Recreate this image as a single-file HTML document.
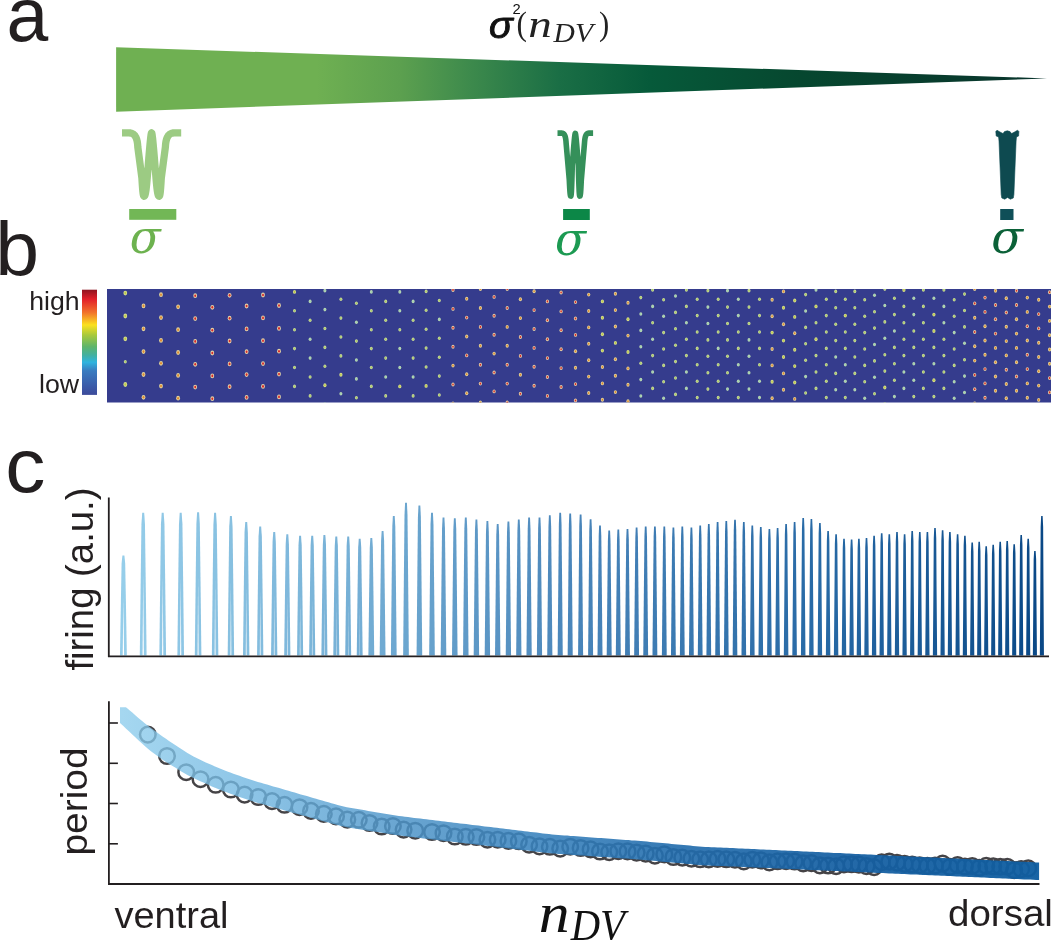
<!DOCTYPE html>
<html><head><meta charset="utf-8"><title>figure</title>
<style>html,body{margin:0;padding:0;background:#fff;overflow:hidden}svg{display:block}</style>
</head><body>
<svg width="1051" height="940" viewBox="0 0 1051 940">
<rect width="1051" height="940" fill="#fff"/>
<defs>
<linearGradient id="gw" x1="116" x2="1048" y1="0" y2="0" gradientUnits="userSpaceOnUse"><stop offset="0" stop-color="#6fb052"/><stop offset="0.215" stop-color="#6fb052"/><stop offset="0.305" stop-color="#5ca04f"/><stop offset="0.38" stop-color="#3d8a4c"/><stop offset="0.476" stop-color="#1a6e45"/><stop offset="0.573" stop-color="#065a3a"/><stop offset="0.734" stop-color="#06472f"/><stop offset="0.9" stop-color="#083b2d"/><stop offset="1" stop-color="#08332b"/></linearGradient>
<linearGradient id="cb" x1="0" x2="0" y1="0" y2="1"><stop offset="0" stop-color="#8f1420"/><stop offset="0.09" stop-color="#e2202a"/><stop offset="0.22" stop-color="#f2752a"/><stop offset="0.335" stop-color="#fbe11f"/><stop offset="0.43" stop-color="#a9c93b"/><stop offset="0.54" stop-color="#5fb56a"/><stop offset="0.62" stop-color="#43b09f"/><stop offset="0.69" stop-color="#2fb4df"/><stop offset="0.77" stop-color="#3a7cc0"/><stop offset="0.92" stop-color="#3b5aa8"/><stop offset="1" stop-color="#3c4a9a"/></linearGradient>
<linearGradient id="bandg" x1="120" x2="1039" y1="0" y2="0" gradientUnits="userSpaceOnUse"><stop offset="0" stop-color="#8cccec" stop-opacity="0.78"/><stop offset="0.15" stop-color="#6fb5e0" stop-opacity="0.8"/><stop offset="0.3" stop-color="#4e95c9" stop-opacity="0.84"/><stop offset="0.45" stop-color="#3882bd" stop-opacity="0.88"/><stop offset="0.6" stop-color="#236dad" stop-opacity="0.91"/><stop offset="0.8" stop-color="#155fa2" stop-opacity="0.94"/><stop offset="1" stop-color="#0f5ea1" stop-opacity="0.96"/></linearGradient>
<clipPath id="hm"><rect x="107" y="289" width="944" height="113.5"/></clipPath>
<clipPath id="bc"><rect x="120" y="707.2" width="919.3" height="180"/></clipPath>
</defs>
<polygon points="116.1,47.2 1047,78.4 116.1,111.8" fill="url(#gw)"/>
<text transform="translate(489.07,38.48) scale(1.061,1)" font-family="'Liberation Sans',sans-serif" font-weight="normal" font-style="italic" font-size="37.22" fill="#111" stroke="#111" stroke-width="0.9" stroke-linejoin="round">σ</text>
<text transform="translate(512.56,14.00) scale(1.031,1)" font-family="'Liberation Sans',sans-serif" font-weight="normal" font-style="normal" font-size="14.29" fill="#111">2</text>
<text transform="translate(516.59,35.46) scale(0.923,1)" font-family="'Liberation Serif',serif" font-weight="normal" font-style="normal" font-size="34.00" fill="#222">(</text>
<text transform="translate(528.35,36.79) scale(1.216,1)" font-family="'Liberation Serif',serif" font-weight="normal" font-style="italic" font-size="38.71" fill="#222">n</text>
<text transform="translate(553.60,42.19) scale(1.095,1)" font-family="'Liberation Serif',serif" font-weight="normal" font-style="italic" font-size="27.01" fill="#222">DV</text>
<text transform="translate(598.98,35.46) scale(0.905,1)" font-family="'Liberation Serif',serif" font-weight="normal" font-style="normal" font-size="34.00" fill="#222">)</text>
<polyline points="122.00,132.90 129.10,132.90 130.43,133.00 131.62,133.27 132.68,133.73 133.62,134.34 134.44,135.10 135.15,136.01 135.77,137.04 136.28,138.19 136.71,139.46 137.06,140.81 137.34,142.26 137.55,143.78 137.70,145.36 137.80,147.00 141.90,178.00 142.06,180.63 142.21,183.05 142.36,185.24 142.50,187.23 142.64,189.01 142.78,190.58 142.92,191.95 143.06,193.13 143.21,194.12 143.37,194.91 143.53,195.53 143.71,195.96 143.90,196.22 144.10,196.30 144.44,196.14 144.75,195.66 145.05,194.88 145.33,193.82 145.60,192.50 145.86,190.94 146.10,189.16 146.34,187.18 146.57,185.00 146.80,182.66 147.02,180.17 147.25,177.55 147.47,174.82 147.70,172.00 148.07,167.46 148.43,163.06 148.77,158.85 149.10,154.84 149.42,151.08 149.73,147.58 150.02,144.39 150.29,141.52 150.55,139.01 150.79,136.89 151.02,135.19 151.23,133.94 151.42,133.16 151.60,132.90 151.78,133.16 151.97,133.94 152.18,135.19 152.41,136.89 152.65,139.01 152.91,141.52 153.18,144.39 153.47,147.58 153.78,151.08 154.10,154.84 154.43,158.85 154.77,163.06 155.13,167.46 155.50,172.00 155.73,174.82 155.95,177.55 156.18,180.17 156.40,182.66 156.63,185.00 156.86,187.18 157.10,189.16 157.34,190.94 157.60,192.50 157.87,193.82 158.15,194.88 158.45,195.66 158.76,196.14 159.10,196.30 159.30,196.22 159.49,195.96 159.67,195.53 159.83,194.91 159.99,194.12 160.14,193.13 160.28,191.95 160.42,190.58 160.56,189.01 160.70,187.23 160.84,185.24 160.99,183.05 161.14,180.63 161.30,178.00 165.40,147.00 165.50,145.36 165.65,143.78 165.86,142.26 166.14,140.81 166.49,139.46 166.92,138.19 167.43,137.04 168.05,136.01 168.76,135.10 169.58,134.34 170.52,133.73 171.58,133.27 172.77,133.00 174.10,132.90 181.20,132.90" fill="none" stroke="#9ccb83" stroke-width="7.3" stroke-linejoin="round"/>
<polyline points="557.50,133.10 561.70,133.10 562.37,133.17 562.96,133.36 563.49,133.68 563.95,134.11 564.36,134.65 564.71,135.28 565.01,136.01 565.26,136.82 565.47,137.70 565.65,138.66 565.80,139.67 565.92,140.74 566.02,141.85 566.10,143.00 569.30,180.00 569.41,182.32 569.51,184.44 569.61,186.37 569.71,188.12 569.80,189.68 569.90,191.07 569.99,192.28 570.09,193.31 570.19,194.18 570.30,194.88 570.41,195.42 570.53,195.80 570.66,196.03 570.80,196.10 570.94,195.89 571.07,195.27 571.20,194.28 571.31,192.93 571.43,191.24 571.53,189.25 571.63,186.96 571.73,184.42 571.83,181.64 571.92,178.65 572.02,175.46 572.11,172.11 572.20,168.61 572.30,165.00 572.58,161.33 572.86,157.78 573.13,154.37 573.38,151.13 573.62,148.09 573.86,145.27 574.08,142.68 574.29,140.36 574.49,138.34 574.68,136.62 574.85,135.25 575.02,134.24 575.16,133.61 575.30,133.40 575.44,133.61 575.58,134.24 575.75,135.25 575.92,136.62 576.11,138.34 576.31,140.36 576.52,142.68 576.74,145.27 576.98,148.09 577.22,151.13 577.47,154.37 577.74,157.78 578.02,161.33 578.30,165.00 578.40,168.61 578.49,172.11 578.58,175.46 578.68,178.65 578.77,181.64 578.87,184.42 578.97,186.96 579.07,189.25 579.17,191.24 579.29,192.93 579.40,194.28 579.53,195.27 579.66,195.89 579.80,196.10 579.94,196.03 580.07,195.80 580.19,195.42 580.30,194.88 580.41,194.18 580.51,193.31 580.61,192.28 580.70,191.07 580.80,189.68 580.89,188.12 580.99,186.37 581.09,184.44 581.19,182.32 581.30,180.00 584.50,143.00 584.58,141.85 584.68,140.74 584.80,139.67 584.95,138.66 585.13,137.70 585.34,136.82 585.59,136.01 585.89,135.28 586.24,134.65 586.65,134.11 587.11,133.68 587.64,133.36 588.23,133.17 588.90,133.10 593.10,133.10" fill="none" stroke="#35905a" stroke-width="5.6" stroke-linejoin="round"/>
<path d="M995.8,131.5 L997,130.2 L1000,132 L1003,133.6 L1004.5,131.6 L1007.3,130.8 L1010,131.6 L1011.6,133.6 L1014.5,132 L1017.6,130.2 L1018.9,131.5 L1018.6,136 L1016.5,137 L1016.1,141 L1013.9,194.5 L1013.3,198 L1010.3,199.2 L1007.5,197.4 L1004.8,199.2 L1001.8,198 L1001.2,194.5 L999,141 L998.6,137 L996.2,136 Z" fill="#0e4a50" stroke="#0e4a50" stroke-width="0.6" stroke-linejoin="round"/>
<rect x="129.2" y="209" width="47.1" height="10.8" fill="#72b756"/>
<rect x="563.1" y="209" width="26.7" height="11" fill="#0c8747"/>
<rect x="1000.2" y="209" width="13.3" height="11" fill="#0f4f58"/>
<text transform="translate(129.66,252.89) scale(0.958,1)" font-family="'DejaVu Serif','Liberation Serif',serif" font-weight="normal" font-style="italic" font-size="47.29" fill="#6db24f">σ</text>
<text transform="translate(554.95,254.59) scale(0.965,1)" font-family="'DejaVu Serif','Liberation Serif',serif" font-weight="normal" font-style="italic" font-size="47.10" fill="#1c9a52">σ</text>
<text transform="translate(991.21,252.89) scale(0.984,1)" font-family="'DejaVu Serif','Liberation Serif',serif" font-weight="normal" font-style="italic" font-size="47.29" fill="#0b6138">σ</text>
<text transform="translate(6.52,41.03) scale(0.981,1)" font-family="'Liberation Sans',sans-serif" font-weight="normal" font-style="normal" font-size="76.55" fill="#231f20">a</text>
<text transform="translate(-4.63,275.14) scale(1.037,1)" font-family="'Liberation Sans',sans-serif" font-weight="normal" font-style="normal" font-size="76.05" fill="#231f20">b</text>
<text transform="translate(5.29,492.23) scale(1.048,1)" font-family="'Liberation Sans',sans-serif" font-weight="normal" font-style="normal" font-size="76.55" fill="#231f20">c</text>
<rect x="82" y="289.7" width="15" height="105.2" fill="url(#cb)"/>
<text transform="translate(29.13,309.84) scale(1.026,1)" font-family="'Liberation Sans',sans-serif" font-weight="normal" font-style="normal" font-size="25.99" fill="#231f20">high</text>
<text transform="translate(38.96,392.94) scale(1.029,1)" font-family="'Liberation Sans',sans-serif" font-weight="normal" font-style="normal" font-size="25.99" fill="#231f20">low</text>
<rect x="107" y="289" width="944" height="113.5" fill="#353c8d"/>
<g clip-path="url(#hm)">
<ellipse cx="125.3" cy="293.1" rx="1.9" ry="2.4" fill="#d6dc8a"/><ellipse cx="125.3" cy="293.1" rx="0.95" ry="1.32" fill="#b9c94a"/>
<ellipse cx="125.3" cy="316.0" rx="1.9" ry="2.4" fill="#d6dc8a"/><ellipse cx="125.3" cy="316.0" rx="0.95" ry="1.32" fill="#b9c94a"/>
<ellipse cx="125.3" cy="338.8" rx="1.9" ry="2.4" fill="#d6dc8a"/><ellipse cx="125.3" cy="338.8" rx="0.95" ry="1.32" fill="#b9c94a"/>
<ellipse cx="125.3" cy="361.7" rx="1.5" ry="1.8" fill="#cbd996"/><ellipse cx="125.3" cy="361.7" rx="0.75" ry="0.99" fill="#a5cc6c"/>
<ellipse cx="125.3" cy="384.5" rx="1.9" ry="2.4" fill="#d6dc8a"/><ellipse cx="125.3" cy="384.5" rx="0.95" ry="1.32" fill="#b9c94a"/>
<ellipse cx="143.5" cy="305.9" rx="1.9" ry="2.4" fill="#e1d39a"/><ellipse cx="143.5" cy="305.9" rx="0.95" ry="1.32" fill="#e0862e"/>
<ellipse cx="143.5" cy="328.8" rx="1.9" ry="2.4" fill="#e1d39a"/><ellipse cx="143.5" cy="328.8" rx="0.95" ry="1.32" fill="#e0862e"/>
<ellipse cx="143.5" cy="351.6" rx="1.9" ry="2.4" fill="#e1d39a"/><ellipse cx="143.5" cy="351.6" rx="0.95" ry="1.32" fill="#e0862e"/>
<ellipse cx="143.5" cy="374.5" rx="1.9" ry="2.4" fill="#e1d39a"/><ellipse cx="143.5" cy="374.5" rx="0.95" ry="1.32" fill="#e0862e"/>
<ellipse cx="143.5" cy="397.3" rx="1.9" ry="2.4" fill="#e1d39a"/><ellipse cx="143.5" cy="397.3" rx="0.95" ry="1.32" fill="#e0862e"/>
<ellipse cx="161.0" cy="294.7" rx="1.9" ry="2.4" fill="#e1d39a"/><ellipse cx="161.0" cy="294.7" rx="0.95" ry="1.32" fill="#e0862e"/>
<ellipse cx="161.0" cy="317.6" rx="1.9" ry="2.4" fill="#e1d39a"/><ellipse cx="161.0" cy="317.6" rx="0.95" ry="1.32" fill="#e0862e"/>
<ellipse cx="161.0" cy="340.4" rx="1.9" ry="2.4" fill="#e1d39a"/><ellipse cx="161.0" cy="340.4" rx="0.95" ry="1.32" fill="#e0862e"/>
<ellipse cx="161.0" cy="363.3" rx="1.9" ry="2.4" fill="#e1d39a"/><ellipse cx="161.0" cy="363.3" rx="0.95" ry="1.32" fill="#e0862e"/>
<ellipse cx="161.0" cy="386.1" rx="1.9" ry="2.4" fill="#e1d39a"/><ellipse cx="161.0" cy="386.1" rx="0.95" ry="1.32" fill="#e0862e"/>
<ellipse cx="178.1" cy="306.8" rx="1.9" ry="2.4" fill="#e1d39a"/><ellipse cx="178.1" cy="306.8" rx="0.95" ry="1.32" fill="#e0862e"/>
<ellipse cx="178.1" cy="329.7" rx="1.9" ry="2.4" fill="#e1d39a"/><ellipse cx="178.1" cy="329.7" rx="0.95" ry="1.32" fill="#e0862e"/>
<ellipse cx="178.1" cy="352.5" rx="1.9" ry="2.4" fill="#e1d39a"/><ellipse cx="178.1" cy="352.5" rx="0.95" ry="1.32" fill="#e0862e"/>
<ellipse cx="178.1" cy="375.4" rx="1.9" ry="2.4" fill="#e1d39a"/><ellipse cx="178.1" cy="375.4" rx="0.95" ry="1.32" fill="#e0862e"/>
<ellipse cx="178.1" cy="398.2" rx="1.9" ry="2.4" fill="#e1d39a"/><ellipse cx="178.1" cy="398.2" rx="0.95" ry="1.32" fill="#e0862e"/>
<ellipse cx="195.2" cy="295.7" rx="1.9" ry="2.4" fill="#e3d3a6"/><ellipse cx="195.2" cy="295.7" rx="0.95" ry="1.32" fill="#d8262c"/>
<ellipse cx="195.2" cy="318.6" rx="1.9" ry="2.4" fill="#e3d3a6"/><ellipse cx="195.2" cy="318.6" rx="0.95" ry="1.32" fill="#d8262c"/>
<ellipse cx="195.2" cy="341.4" rx="1.9" ry="2.4" fill="#e3d3a6"/><ellipse cx="195.2" cy="341.4" rx="0.95" ry="1.32" fill="#d8262c"/>
<ellipse cx="195.2" cy="364.3" rx="1.9" ry="2.4" fill="#e3d3a6"/><ellipse cx="195.2" cy="364.3" rx="0.95" ry="1.32" fill="#d8262c"/>
<ellipse cx="195.2" cy="387.1" rx="1.9" ry="2.4" fill="#e3d3a6"/><ellipse cx="195.2" cy="387.1" rx="0.95" ry="1.32" fill="#d8262c"/>
<ellipse cx="212.3" cy="307.3" rx="1.9" ry="2.4" fill="#e3d3a6"/><ellipse cx="212.3" cy="307.3" rx="0.95" ry="1.32" fill="#d8262c"/>
<ellipse cx="212.3" cy="330.2" rx="1.9" ry="2.4" fill="#e3d3a6"/><ellipse cx="212.3" cy="330.2" rx="0.95" ry="1.32" fill="#d8262c"/>
<ellipse cx="212.3" cy="353.0" rx="1.9" ry="2.4" fill="#e3d3a6"/><ellipse cx="212.3" cy="353.0" rx="0.95" ry="1.32" fill="#d8262c"/>
<ellipse cx="212.3" cy="375.9" rx="1.9" ry="2.4" fill="#e3d3a6"/><ellipse cx="212.3" cy="375.9" rx="0.95" ry="1.32" fill="#d8262c"/>
<ellipse cx="212.3" cy="398.7" rx="1.9" ry="2.4" fill="#e3d3a6"/><ellipse cx="212.3" cy="398.7" rx="0.95" ry="1.32" fill="#d8262c"/>
<ellipse cx="229.6" cy="295.3" rx="1.9" ry="2.4" fill="#e3d3a6"/><ellipse cx="229.6" cy="295.3" rx="0.95" ry="1.32" fill="#d8262c"/>
<ellipse cx="229.6" cy="318.2" rx="1.9" ry="2.4" fill="#e3d3a6"/><ellipse cx="229.6" cy="318.2" rx="0.95" ry="1.32" fill="#d8262c"/>
<ellipse cx="229.6" cy="341.0" rx="1.9" ry="2.4" fill="#e3d3a6"/><ellipse cx="229.6" cy="341.0" rx="0.95" ry="1.32" fill="#d8262c"/>
<ellipse cx="229.6" cy="363.9" rx="1.9" ry="2.4" fill="#e3d3a6"/><ellipse cx="229.6" cy="363.9" rx="0.95" ry="1.32" fill="#d8262c"/>
<ellipse cx="229.6" cy="386.7" rx="1.9" ry="2.4" fill="#e3d3a6"/><ellipse cx="229.6" cy="386.7" rx="0.95" ry="1.32" fill="#d8262c"/>
<ellipse cx="246.6" cy="306.0" rx="1.9" ry="2.4" fill="#e3d3a6"/><ellipse cx="246.6" cy="306.0" rx="0.95" ry="1.32" fill="#d8262c"/>
<ellipse cx="246.6" cy="328.9" rx="1.9" ry="2.4" fill="#e3d3a6"/><ellipse cx="246.6" cy="328.9" rx="0.95" ry="1.32" fill="#d8262c"/>
<ellipse cx="246.6" cy="351.7" rx="1.9" ry="2.4" fill="#e3d3a6"/><ellipse cx="246.6" cy="351.7" rx="0.95" ry="1.32" fill="#d8262c"/>
<ellipse cx="246.6" cy="374.6" rx="1.9" ry="2.4" fill="#e3d3a6"/><ellipse cx="246.6" cy="374.6" rx="0.95" ry="1.32" fill="#d8262c"/>
<ellipse cx="246.6" cy="397.4" rx="1.9" ry="2.4" fill="#e3d3a6"/><ellipse cx="246.6" cy="397.4" rx="0.95" ry="1.32" fill="#d8262c"/>
<ellipse cx="263.0" cy="295.0" rx="1.9" ry="2.4" fill="#e3d3a6"/><ellipse cx="263.0" cy="295.0" rx="0.95" ry="1.32" fill="#d8262c"/>
<ellipse cx="263.0" cy="317.9" rx="1.9" ry="2.4" fill="#e3d3a6"/><ellipse cx="263.0" cy="317.9" rx="0.95" ry="1.32" fill="#d8262c"/>
<ellipse cx="263.0" cy="340.7" rx="1.9" ry="2.4" fill="#e3d3a6"/><ellipse cx="263.0" cy="340.7" rx="0.95" ry="1.32" fill="#d8262c"/>
<ellipse cx="263.0" cy="363.6" rx="1.9" ry="2.4" fill="#e3d3a6"/><ellipse cx="263.0" cy="363.6" rx="0.95" ry="1.32" fill="#d8262c"/>
<ellipse cx="263.0" cy="386.4" rx="1.9" ry="2.4" fill="#e3d3a6"/><ellipse cx="263.0" cy="386.4" rx="0.95" ry="1.32" fill="#d8262c"/>
<ellipse cx="279.0" cy="305.5" rx="1.9" ry="2.4" fill="#e3d3a6"/><ellipse cx="279.0" cy="305.5" rx="0.95" ry="1.32" fill="#d8262c"/>
<ellipse cx="279.0" cy="328.4" rx="1.9" ry="2.4" fill="#e3d3a6"/><ellipse cx="279.0" cy="328.4" rx="0.95" ry="1.32" fill="#d8262c"/>
<ellipse cx="279.0" cy="351.2" rx="1.9" ry="2.4" fill="#e3d3a6"/><ellipse cx="279.0" cy="351.2" rx="0.95" ry="1.32" fill="#d8262c"/>
<ellipse cx="279.0" cy="374.1" rx="1.9" ry="2.4" fill="#e3d3a6"/><ellipse cx="279.0" cy="374.1" rx="0.95" ry="1.32" fill="#d8262c"/>
<ellipse cx="279.0" cy="396.9" rx="1.9" ry="2.4" fill="#e3d3a6"/><ellipse cx="279.0" cy="396.9" rx="0.95" ry="1.32" fill="#d8262c"/>
<ellipse cx="294.5" cy="291.9" rx="1.6" ry="1.95" fill="#d6dc8a"/><ellipse cx="294.5" cy="291.9" rx="0.80" ry="1.07" fill="#b9c94a"/>
<ellipse cx="294.5" cy="310.8" rx="1.5" ry="1.8" fill="#cbd996"/><ellipse cx="294.5" cy="310.8" rx="0.75" ry="0.99" fill="#a5cc6c"/>
<ellipse cx="294.5" cy="329.7" rx="1.5" ry="1.8" fill="#cbd996"/><ellipse cx="294.5" cy="329.7" rx="0.75" ry="0.99" fill="#a5cc6c"/>
<ellipse cx="294.5" cy="348.6" rx="1.5" ry="1.8" fill="#cbd996"/><ellipse cx="294.5" cy="348.6" rx="0.75" ry="0.99" fill="#a5cc6c"/>
<ellipse cx="294.5" cy="367.5" rx="1.5" ry="1.8" fill="#cbd996"/><ellipse cx="294.5" cy="367.5" rx="0.75" ry="0.99" fill="#a5cc6c"/>
<ellipse cx="294.5" cy="386.4" rx="1.5" ry="1.8" fill="#cbd996"/><ellipse cx="294.5" cy="386.4" rx="0.75" ry="0.99" fill="#a5cc6c"/>
<ellipse cx="310.1" cy="301.4" rx="1.5" ry="1.8" fill="#b9d6b0"/><ellipse cx="310.1" cy="301.4" rx="0.75" ry="0.99" fill="#9fd0b4"/>
<ellipse cx="310.1" cy="320.3" rx="1.5" ry="1.8" fill="#cbd996"/><ellipse cx="310.1" cy="320.3" rx="0.75" ry="0.99" fill="#a5cc6c"/>
<ellipse cx="310.1" cy="339.2" rx="1.5" ry="1.8" fill="#b9d6b0"/><ellipse cx="310.1" cy="339.2" rx="0.75" ry="0.99" fill="#9fd0b4"/>
<ellipse cx="310.1" cy="358.1" rx="1.5" ry="1.8" fill="#b9d6b0"/><ellipse cx="310.1" cy="358.1" rx="0.75" ry="0.99" fill="#9fd0b4"/>
<ellipse cx="310.1" cy="377.0" rx="1.5" ry="1.8" fill="#cbd996"/><ellipse cx="310.1" cy="377.0" rx="0.75" ry="0.99" fill="#a5cc6c"/>
<ellipse cx="310.1" cy="395.9" rx="1.5" ry="1.8" fill="#cbd996"/><ellipse cx="310.1" cy="395.9" rx="0.75" ry="0.99" fill="#a5cc6c"/>
<ellipse cx="324.9" cy="290.7" rx="1.5" ry="1.8" fill="#b9d6b0"/><ellipse cx="324.9" cy="290.7" rx="0.75" ry="0.99" fill="#9fd0b4"/>
<ellipse cx="324.9" cy="309.6" rx="1.5" ry="1.8" fill="#b9d6b0"/><ellipse cx="324.9" cy="309.6" rx="0.75" ry="0.99" fill="#9fd0b4"/>
<ellipse cx="324.9" cy="328.5" rx="1.5" ry="1.8" fill="#cbd996"/><ellipse cx="324.9" cy="328.5" rx="0.75" ry="0.99" fill="#a5cc6c"/>
<ellipse cx="324.9" cy="347.4" rx="1.5" ry="1.8" fill="#cbd996"/><ellipse cx="324.9" cy="347.4" rx="0.75" ry="0.99" fill="#a5cc6c"/>
<ellipse cx="324.9" cy="366.3" rx="1.5" ry="1.8" fill="#cbd996"/><ellipse cx="324.9" cy="366.3" rx="0.75" ry="0.99" fill="#a5cc6c"/>
<ellipse cx="324.9" cy="385.2" rx="1.6" ry="1.95" fill="#d6dc8a"/><ellipse cx="324.9" cy="385.2" rx="0.80" ry="1.07" fill="#b9c94a"/>
<ellipse cx="324.9" cy="404.1" rx="1.5" ry="1.8" fill="#b9d6b0"/><ellipse cx="324.9" cy="404.1" rx="0.75" ry="0.99" fill="#9fd0b4"/>
<ellipse cx="340.9" cy="299.2" rx="1.5" ry="1.8" fill="#cbd996"/><ellipse cx="340.9" cy="299.2" rx="0.75" ry="0.99" fill="#a5cc6c"/>
<ellipse cx="340.9" cy="318.1" rx="1.5" ry="1.8" fill="#cbd996"/><ellipse cx="340.9" cy="318.1" rx="0.75" ry="0.99" fill="#a5cc6c"/>
<ellipse cx="340.9" cy="337.0" rx="1.5" ry="1.8" fill="#cbd996"/><ellipse cx="340.9" cy="337.0" rx="0.75" ry="0.99" fill="#a5cc6c"/>
<ellipse cx="340.9" cy="355.9" rx="1.5" ry="1.8" fill="#cbd996"/><ellipse cx="340.9" cy="355.9" rx="0.75" ry="0.99" fill="#a5cc6c"/>
<ellipse cx="340.9" cy="374.8" rx="1.6" ry="1.95" fill="#d6dc8a"/><ellipse cx="340.9" cy="374.8" rx="0.80" ry="1.07" fill="#b9c94a"/>
<ellipse cx="340.9" cy="393.7" rx="1.5" ry="1.8" fill="#b9d6b0"/><ellipse cx="340.9" cy="393.7" rx="0.75" ry="0.99" fill="#9fd0b4"/>
<ellipse cx="356.4" cy="303.3" rx="1.5" ry="1.8" fill="#cbd996"/><ellipse cx="356.4" cy="303.3" rx="0.75" ry="0.99" fill="#a5cc6c"/>
<ellipse cx="356.4" cy="322.2" rx="1.5" ry="1.8" fill="#b9d6b0"/><ellipse cx="356.4" cy="322.2" rx="0.75" ry="0.99" fill="#9fd0b4"/>
<ellipse cx="356.4" cy="341.1" rx="1.5" ry="1.8" fill="#cbd996"/><ellipse cx="356.4" cy="341.1" rx="0.75" ry="0.99" fill="#a5cc6c"/>
<ellipse cx="356.4" cy="360.0" rx="1.5" ry="1.8" fill="#b9d6b0"/><ellipse cx="356.4" cy="360.0" rx="0.75" ry="0.99" fill="#9fd0b4"/>
<ellipse cx="356.4" cy="378.9" rx="1.5" ry="1.8" fill="#b9d6b0"/><ellipse cx="356.4" cy="378.9" rx="0.75" ry="0.99" fill="#9fd0b4"/>
<ellipse cx="356.4" cy="397.8" rx="1.5" ry="1.8" fill="#cbd996"/><ellipse cx="356.4" cy="397.8" rx="0.75" ry="0.99" fill="#a5cc6c"/>
<ellipse cx="371.3" cy="291.9" rx="1.5" ry="1.8" fill="#b9d6b0"/><ellipse cx="371.3" cy="291.9" rx="0.75" ry="0.99" fill="#9fd0b4"/>
<ellipse cx="371.3" cy="310.8" rx="1.5" ry="1.8" fill="#cbd996"/><ellipse cx="371.3" cy="310.8" rx="0.75" ry="0.99" fill="#a5cc6c"/>
<ellipse cx="371.3" cy="329.7" rx="1.5" ry="1.8" fill="#cbd996"/><ellipse cx="371.3" cy="329.7" rx="0.75" ry="0.99" fill="#a5cc6c"/>
<ellipse cx="371.3" cy="348.6" rx="1.5" ry="1.8" fill="#cbd996"/><ellipse cx="371.3" cy="348.6" rx="0.75" ry="0.99" fill="#a5cc6c"/>
<ellipse cx="371.3" cy="367.5" rx="1.5" ry="1.8" fill="#cbd996"/><ellipse cx="371.3" cy="367.5" rx="0.75" ry="0.99" fill="#a5cc6c"/>
<ellipse cx="371.3" cy="386.4" rx="1.5" ry="1.8" fill="#cbd996"/><ellipse cx="371.3" cy="386.4" rx="0.75" ry="0.99" fill="#a5cc6c"/>
<ellipse cx="385.7" cy="301.4" rx="1.5" ry="1.8" fill="#cbd996"/><ellipse cx="385.7" cy="301.4" rx="0.75" ry="0.99" fill="#a5cc6c"/>
<ellipse cx="385.7" cy="320.3" rx="1.5" ry="1.8" fill="#cbd996"/><ellipse cx="385.7" cy="320.3" rx="0.75" ry="0.99" fill="#a5cc6c"/>
<ellipse cx="385.7" cy="339.2" rx="1.5" ry="1.8" fill="#cbd996"/><ellipse cx="385.7" cy="339.2" rx="0.75" ry="0.99" fill="#a5cc6c"/>
<ellipse cx="385.7" cy="358.1" rx="1.5" ry="1.8" fill="#cbd996"/><ellipse cx="385.7" cy="358.1" rx="0.75" ry="0.99" fill="#a5cc6c"/>
<ellipse cx="385.7" cy="377.0" rx="1.5" ry="1.8" fill="#b9d6b0"/><ellipse cx="385.7" cy="377.0" rx="0.75" ry="0.99" fill="#9fd0b4"/>
<ellipse cx="385.7" cy="395.9" rx="1.5" ry="1.8" fill="#cbd996"/><ellipse cx="385.7" cy="395.9" rx="0.75" ry="0.99" fill="#a5cc6c"/>
<ellipse cx="399.8" cy="291.9" rx="1.5" ry="1.8" fill="#b9d6b0"/><ellipse cx="399.8" cy="291.9" rx="0.75" ry="0.99" fill="#9fd0b4"/>
<ellipse cx="399.8" cy="310.8" rx="1.5" ry="1.8" fill="#b9d6b0"/><ellipse cx="399.8" cy="310.8" rx="0.75" ry="0.99" fill="#9fd0b4"/>
<ellipse cx="399.8" cy="329.7" rx="1.5" ry="1.8" fill="#cbd996"/><ellipse cx="399.8" cy="329.7" rx="0.75" ry="0.99" fill="#a5cc6c"/>
<ellipse cx="399.8" cy="348.6" rx="1.5" ry="1.8" fill="#b9d6b0"/><ellipse cx="399.8" cy="348.6" rx="0.75" ry="0.99" fill="#9fd0b4"/>
<ellipse cx="399.8" cy="367.5" rx="1.5" ry="1.8" fill="#b9d6b0"/><ellipse cx="399.8" cy="367.5" rx="0.75" ry="0.99" fill="#9fd0b4"/>
<ellipse cx="399.8" cy="386.4" rx="1.6" ry="1.95" fill="#d6dc8a"/><ellipse cx="399.8" cy="386.4" rx="0.80" ry="1.07" fill="#b9c94a"/>
<ellipse cx="413.1" cy="301.4" rx="1.5" ry="1.8" fill="#b9d6b0"/><ellipse cx="413.1" cy="301.4" rx="0.75" ry="0.99" fill="#9fd0b4"/>
<ellipse cx="413.1" cy="320.3" rx="1.5" ry="1.8" fill="#cbd996"/><ellipse cx="413.1" cy="320.3" rx="0.75" ry="0.99" fill="#a5cc6c"/>
<ellipse cx="413.1" cy="339.2" rx="1.5" ry="1.8" fill="#cbd996"/><ellipse cx="413.1" cy="339.2" rx="0.75" ry="0.99" fill="#a5cc6c"/>
<ellipse cx="413.1" cy="358.1" rx="1.5" ry="1.8" fill="#cbd996"/><ellipse cx="413.1" cy="358.1" rx="0.75" ry="0.99" fill="#a5cc6c"/>
<ellipse cx="413.1" cy="377.0" rx="1.5" ry="1.8" fill="#b9d6b0"/><ellipse cx="413.1" cy="377.0" rx="0.75" ry="0.99" fill="#9fd0b4"/>
<ellipse cx="413.1" cy="395.9" rx="1.5" ry="1.8" fill="#cbd996"/><ellipse cx="413.1" cy="395.9" rx="0.75" ry="0.99" fill="#a5cc6c"/>
<ellipse cx="426.1" cy="291.4" rx="1.5" ry="1.8" fill="#cbd996"/><ellipse cx="426.1" cy="291.4" rx="0.75" ry="0.99" fill="#a5cc6c"/>
<ellipse cx="426.1" cy="310.3" rx="1.5" ry="1.8" fill="#cbd996"/><ellipse cx="426.1" cy="310.3" rx="0.75" ry="0.99" fill="#a5cc6c"/>
<ellipse cx="426.1" cy="329.2" rx="1.5" ry="1.8" fill="#cbd996"/><ellipse cx="426.1" cy="329.2" rx="0.75" ry="0.99" fill="#a5cc6c"/>
<ellipse cx="426.1" cy="348.1" rx="1.5" ry="1.8" fill="#cbd996"/><ellipse cx="426.1" cy="348.1" rx="0.75" ry="0.99" fill="#a5cc6c"/>
<ellipse cx="426.1" cy="367.0" rx="1.5" ry="1.8" fill="#cbd996"/><ellipse cx="426.1" cy="367.0" rx="0.75" ry="0.99" fill="#a5cc6c"/>
<ellipse cx="426.1" cy="385.9" rx="1.6" ry="1.95" fill="#d6dc8a"/><ellipse cx="426.1" cy="385.9" rx="0.80" ry="1.07" fill="#b9c94a"/>
<ellipse cx="426.1" cy="404.8" rx="1.5" ry="1.8" fill="#b9d6b0"/><ellipse cx="426.1" cy="404.8" rx="0.75" ry="0.99" fill="#9fd0b4"/>
<ellipse cx="439.3" cy="300.5" rx="1.5" ry="1.8" fill="#cbd996"/><ellipse cx="439.3" cy="300.5" rx="0.75" ry="0.99" fill="#a5cc6c"/>
<ellipse cx="439.3" cy="319.4" rx="1.5" ry="1.8" fill="#b9d6b0"/><ellipse cx="439.3" cy="319.4" rx="0.75" ry="0.99" fill="#9fd0b4"/>
<ellipse cx="439.3" cy="338.3" rx="1.5" ry="1.8" fill="#cbd996"/><ellipse cx="439.3" cy="338.3" rx="0.75" ry="0.99" fill="#a5cc6c"/>
<ellipse cx="439.3" cy="357.2" rx="1.5" ry="1.8" fill="#cbd996"/><ellipse cx="439.3" cy="357.2" rx="0.75" ry="0.99" fill="#a5cc6c"/>
<ellipse cx="439.3" cy="376.1" rx="1.5" ry="1.8" fill="#cbd996"/><ellipse cx="439.3" cy="376.1" rx="0.75" ry="0.99" fill="#a5cc6c"/>
<ellipse cx="439.3" cy="395.0" rx="1.5" ry="1.8" fill="#cbd996"/><ellipse cx="439.3" cy="395.0" rx="0.75" ry="0.99" fill="#a5cc6c"/>
<ellipse cx="453.0" cy="290.0" rx="1.6" ry="1.95" fill="#e3d3a6"/><ellipse cx="453.0" cy="290.0" rx="0.80" ry="1.07" fill="#d8262c"/>
<ellipse cx="453.0" cy="308.9" rx="1.6" ry="1.95" fill="#e3d3a6"/><ellipse cx="453.0" cy="308.9" rx="0.80" ry="1.07" fill="#d8262c"/>
<ellipse cx="453.0" cy="327.8" rx="1.6" ry="1.95" fill="#e3d3a6"/><ellipse cx="453.0" cy="327.8" rx="0.80" ry="1.07" fill="#d8262c"/>
<ellipse cx="453.0" cy="346.7" rx="1.6" ry="1.95" fill="#e3d3a6"/><ellipse cx="453.0" cy="346.7" rx="0.80" ry="1.07" fill="#d8262c"/>
<ellipse cx="453.0" cy="365.6" rx="1.6" ry="1.95" fill="#e1d39a"/><ellipse cx="453.0" cy="365.6" rx="0.80" ry="1.07" fill="#e0862e"/>
<ellipse cx="453.0" cy="384.5" rx="1.6" ry="1.95" fill="#e3d3a6"/><ellipse cx="453.0" cy="384.5" rx="0.80" ry="1.07" fill="#d8262c"/>
<ellipse cx="453.0" cy="403.4" rx="1.6" ry="1.95" fill="#e1d39a"/><ellipse cx="453.0" cy="403.4" rx="0.80" ry="1.07" fill="#e0862e"/>
<ellipse cx="466.7" cy="298.7" rx="1.6" ry="1.95" fill="#e1d39a"/><ellipse cx="466.7" cy="298.7" rx="0.80" ry="1.07" fill="#e0862e"/>
<ellipse cx="466.7" cy="317.6" rx="1.6" ry="1.95" fill="#e3d3a6"/><ellipse cx="466.7" cy="317.6" rx="0.80" ry="1.07" fill="#d8262c"/>
<ellipse cx="466.7" cy="336.5" rx="1.6" ry="1.95" fill="#e1d39a"/><ellipse cx="466.7" cy="336.5" rx="0.80" ry="1.07" fill="#e0862e"/>
<ellipse cx="466.7" cy="355.4" rx="1.6" ry="1.95" fill="#e3d3a6"/><ellipse cx="466.7" cy="355.4" rx="0.80" ry="1.07" fill="#d8262c"/>
<ellipse cx="466.7" cy="374.3" rx="1.6" ry="1.95" fill="#e1d39a"/><ellipse cx="466.7" cy="374.3" rx="0.80" ry="1.07" fill="#e0862e"/>
<ellipse cx="466.7" cy="393.2" rx="1.6" ry="1.95" fill="#e1d39a"/><ellipse cx="466.7" cy="393.2" rx="0.80" ry="1.07" fill="#e0862e"/>
<ellipse cx="480.4" cy="289.1" rx="1.6" ry="1.95" fill="#e1d39a"/><ellipse cx="480.4" cy="289.1" rx="0.80" ry="1.07" fill="#e0862e"/>
<ellipse cx="480.4" cy="308.0" rx="1.6" ry="1.95" fill="#e1d39a"/><ellipse cx="480.4" cy="308.0" rx="0.80" ry="1.07" fill="#e0862e"/>
<ellipse cx="480.4" cy="326.9" rx="1.6" ry="1.95" fill="#e3d3a6"/><ellipse cx="480.4" cy="326.9" rx="0.80" ry="1.07" fill="#d8262c"/>
<ellipse cx="480.4" cy="345.8" rx="1.6" ry="1.95" fill="#e1d39a"/><ellipse cx="480.4" cy="345.8" rx="0.80" ry="1.07" fill="#e0862e"/>
<ellipse cx="480.4" cy="364.7" rx="1.6" ry="1.95" fill="#e3d3a6"/><ellipse cx="480.4" cy="364.7" rx="0.80" ry="1.07" fill="#d8262c"/>
<ellipse cx="480.4" cy="383.6" rx="1.6" ry="1.95" fill="#e3d3a6"/><ellipse cx="480.4" cy="383.6" rx="0.80" ry="1.07" fill="#d8262c"/>
<ellipse cx="480.4" cy="402.5" rx="1.6" ry="1.95" fill="#e1d39a"/><ellipse cx="480.4" cy="402.5" rx="0.80" ry="1.07" fill="#e0862e"/>
<ellipse cx="494.1" cy="296.9" rx="1.6" ry="1.95" fill="#e3d3a6"/><ellipse cx="494.1" cy="296.9" rx="0.80" ry="1.07" fill="#d8262c"/>
<ellipse cx="494.1" cy="315.8" rx="1.6" ry="1.95" fill="#e3d3a6"/><ellipse cx="494.1" cy="315.8" rx="0.80" ry="1.07" fill="#d8262c"/>
<ellipse cx="494.1" cy="334.7" rx="1.6" ry="1.95" fill="#e3d3a6"/><ellipse cx="494.1" cy="334.7" rx="0.80" ry="1.07" fill="#d8262c"/>
<ellipse cx="494.1" cy="353.6" rx="1.6" ry="1.95" fill="#e1d39a"/><ellipse cx="494.1" cy="353.6" rx="0.80" ry="1.07" fill="#e0862e"/>
<ellipse cx="494.1" cy="372.5" rx="1.6" ry="1.95" fill="#e3d3a6"/><ellipse cx="494.1" cy="372.5" rx="0.80" ry="1.07" fill="#d8262c"/>
<ellipse cx="494.1" cy="391.4" rx="1.6" ry="1.95" fill="#e3d3a6"/><ellipse cx="494.1" cy="391.4" rx="0.80" ry="1.07" fill="#d8262c"/>
<ellipse cx="507.2" cy="289.1" rx="1.6" ry="1.95" fill="#e3d3a6"/><ellipse cx="507.2" cy="289.1" rx="0.80" ry="1.07" fill="#d8262c"/>
<ellipse cx="507.2" cy="308.0" rx="1.6" ry="1.95" fill="#e3d3a6"/><ellipse cx="507.2" cy="308.0" rx="0.80" ry="1.07" fill="#d8262c"/>
<ellipse cx="507.2" cy="326.9" rx="1.6" ry="1.95" fill="#e1d39a"/><ellipse cx="507.2" cy="326.9" rx="0.80" ry="1.07" fill="#e0862e"/>
<ellipse cx="507.2" cy="345.8" rx="1.6" ry="1.95" fill="#e1d39a"/><ellipse cx="507.2" cy="345.8" rx="0.80" ry="1.07" fill="#e0862e"/>
<ellipse cx="507.2" cy="364.7" rx="1.6" ry="1.95" fill="#e3d3a6"/><ellipse cx="507.2" cy="364.7" rx="0.80" ry="1.07" fill="#d8262c"/>
<ellipse cx="507.2" cy="383.6" rx="1.6" ry="1.95" fill="#e3d3a6"/><ellipse cx="507.2" cy="383.6" rx="0.80" ry="1.07" fill="#d8262c"/>
<ellipse cx="507.2" cy="402.5" rx="1.6" ry="1.95" fill="#e3d3a6"/><ellipse cx="507.2" cy="402.5" rx="0.80" ry="1.07" fill="#d8262c"/>
<ellipse cx="520.4" cy="299.2" rx="1.6" ry="1.95" fill="#e1d39a"/><ellipse cx="520.4" cy="299.2" rx="0.80" ry="1.07" fill="#e0862e"/>
<ellipse cx="520.4" cy="318.1" rx="1.6" ry="1.95" fill="#e1d39a"/><ellipse cx="520.4" cy="318.1" rx="0.80" ry="1.07" fill="#e0862e"/>
<ellipse cx="520.4" cy="337.0" rx="1.6" ry="1.95" fill="#e3d3a6"/><ellipse cx="520.4" cy="337.0" rx="0.80" ry="1.07" fill="#d8262c"/>
<ellipse cx="520.4" cy="355.9" rx="1.6" ry="1.95" fill="#e3d3a6"/><ellipse cx="520.4" cy="355.9" rx="0.80" ry="1.07" fill="#d8262c"/>
<ellipse cx="520.4" cy="374.8" rx="1.6" ry="1.95" fill="#e1d39a"/><ellipse cx="520.4" cy="374.8" rx="0.80" ry="1.07" fill="#e0862e"/>
<ellipse cx="520.4" cy="393.7" rx="1.6" ry="1.95" fill="#e3d3a6"/><ellipse cx="520.4" cy="393.7" rx="0.80" ry="1.07" fill="#d8262c"/>
<ellipse cx="534.1" cy="291.2" rx="1.6" ry="1.95" fill="#e1d39a"/><ellipse cx="534.1" cy="291.2" rx="0.80" ry="1.07" fill="#e0862e"/>
<ellipse cx="534.1" cy="310.1" rx="1.6" ry="1.95" fill="#e3d3a6"/><ellipse cx="534.1" cy="310.1" rx="0.80" ry="1.07" fill="#d8262c"/>
<ellipse cx="534.1" cy="329.0" rx="1.6" ry="1.95" fill="#e3d3a6"/><ellipse cx="534.1" cy="329.0" rx="0.80" ry="1.07" fill="#d8262c"/>
<ellipse cx="534.1" cy="347.9" rx="1.6" ry="1.95" fill="#e3d3a6"/><ellipse cx="534.1" cy="347.9" rx="0.80" ry="1.07" fill="#d8262c"/>
<ellipse cx="534.1" cy="366.8" rx="1.6" ry="1.95" fill="#e3d3a6"/><ellipse cx="534.1" cy="366.8" rx="0.80" ry="1.07" fill="#d8262c"/>
<ellipse cx="534.1" cy="385.7" rx="1.6" ry="1.95" fill="#e3d3a6"/><ellipse cx="534.1" cy="385.7" rx="0.80" ry="1.07" fill="#d8262c"/>
<ellipse cx="534.1" cy="404.6" rx="1.6" ry="1.95" fill="#e3d3a6"/><ellipse cx="534.1" cy="404.6" rx="0.80" ry="1.07" fill="#d8262c"/>
<ellipse cx="547.4" cy="301.4" rx="1.6" ry="1.95" fill="#e3d3a6"/><ellipse cx="547.4" cy="301.4" rx="0.80" ry="1.07" fill="#d8262c"/>
<ellipse cx="547.4" cy="320.3" rx="1.6" ry="1.95" fill="#e3d3a6"/><ellipse cx="547.4" cy="320.3" rx="0.80" ry="1.07" fill="#d8262c"/>
<ellipse cx="547.4" cy="339.2" rx="1.6" ry="1.95" fill="#e3d3a6"/><ellipse cx="547.4" cy="339.2" rx="0.80" ry="1.07" fill="#d8262c"/>
<ellipse cx="547.4" cy="358.1" rx="1.6" ry="1.95" fill="#e3d3a6"/><ellipse cx="547.4" cy="358.1" rx="0.80" ry="1.07" fill="#d8262c"/>
<ellipse cx="547.4" cy="377.0" rx="1.6" ry="1.95" fill="#e3d3a6"/><ellipse cx="547.4" cy="377.0" rx="0.80" ry="1.07" fill="#d8262c"/>
<ellipse cx="547.4" cy="395.9" rx="1.6" ry="1.95" fill="#e3d3a6"/><ellipse cx="547.4" cy="395.9" rx="0.80" ry="1.07" fill="#d8262c"/>
<ellipse cx="561.1" cy="292.5" rx="1.6" ry="1.95" fill="#e3d3a6"/><ellipse cx="561.1" cy="292.5" rx="0.80" ry="1.07" fill="#d8262c"/>
<ellipse cx="561.1" cy="311.4" rx="1.6" ry="1.95" fill="#e3d3a6"/><ellipse cx="561.1" cy="311.4" rx="0.80" ry="1.07" fill="#d8262c"/>
<ellipse cx="561.1" cy="330.3" rx="1.6" ry="1.95" fill="#e3d3a6"/><ellipse cx="561.1" cy="330.3" rx="0.80" ry="1.07" fill="#d8262c"/>
<ellipse cx="561.1" cy="349.2" rx="1.6" ry="1.95" fill="#e3d3a6"/><ellipse cx="561.1" cy="349.2" rx="0.80" ry="1.07" fill="#d8262c"/>
<ellipse cx="561.1" cy="368.1" rx="1.6" ry="1.95" fill="#e3d3a6"/><ellipse cx="561.1" cy="368.1" rx="0.80" ry="1.07" fill="#d8262c"/>
<ellipse cx="561.1" cy="387.0" rx="1.6" ry="1.95" fill="#e3d3a6"/><ellipse cx="561.1" cy="387.0" rx="0.80" ry="1.07" fill="#d8262c"/>
<ellipse cx="575.5" cy="302.1" rx="1.6" ry="1.95" fill="#e3d3a6"/><ellipse cx="575.5" cy="302.1" rx="0.80" ry="1.07" fill="#d8262c"/>
<ellipse cx="575.5" cy="318.5" rx="1.6" ry="1.95" fill="#e3d3a6"/><ellipse cx="575.5" cy="318.5" rx="0.80" ry="1.07" fill="#d8262c"/>
<ellipse cx="575.5" cy="334.9" rx="1.6" ry="1.95" fill="#e3d3a6"/><ellipse cx="575.5" cy="334.9" rx="0.80" ry="1.07" fill="#d8262c"/>
<ellipse cx="575.5" cy="351.3" rx="1.6" ry="1.95" fill="#e1d39a"/><ellipse cx="575.5" cy="351.3" rx="0.80" ry="1.07" fill="#e0862e"/>
<ellipse cx="575.5" cy="367.7" rx="1.6" ry="1.95" fill="#e1d39a"/><ellipse cx="575.5" cy="367.7" rx="0.80" ry="1.07" fill="#e0862e"/>
<ellipse cx="575.5" cy="384.1" rx="1.6" ry="1.95" fill="#e3d3a6"/><ellipse cx="575.5" cy="384.1" rx="0.80" ry="1.07" fill="#d8262c"/>
<ellipse cx="575.5" cy="400.5" rx="1.6" ry="1.95" fill="#e3d3a6"/><ellipse cx="575.5" cy="400.5" rx="0.80" ry="1.07" fill="#d8262c"/>
<ellipse cx="588.7" cy="294.6" rx="1.6" ry="1.95" fill="#e1d39a"/><ellipse cx="588.7" cy="294.6" rx="0.80" ry="1.07" fill="#e0862e"/>
<ellipse cx="588.7" cy="311.0" rx="1.6" ry="1.95" fill="#e1d39a"/><ellipse cx="588.7" cy="311.0" rx="0.80" ry="1.07" fill="#e0862e"/>
<ellipse cx="588.7" cy="327.4" rx="1.6" ry="1.95" fill="#e1d39a"/><ellipse cx="588.7" cy="327.4" rx="0.80" ry="1.07" fill="#e0862e"/>
<ellipse cx="588.7" cy="343.8" rx="1.6" ry="1.95" fill="#e1d39a"/><ellipse cx="588.7" cy="343.8" rx="0.80" ry="1.07" fill="#e0862e"/>
<ellipse cx="588.7" cy="360.2" rx="1.6" ry="1.95" fill="#e1d39a"/><ellipse cx="588.7" cy="360.2" rx="0.80" ry="1.07" fill="#e0862e"/>
<ellipse cx="588.7" cy="376.6" rx="1.6" ry="1.95" fill="#e1d39a"/><ellipse cx="588.7" cy="376.6" rx="0.80" ry="1.07" fill="#e0862e"/>
<ellipse cx="588.7" cy="393.0" rx="1.6" ry="1.95" fill="#e1d39a"/><ellipse cx="588.7" cy="393.0" rx="0.80" ry="1.07" fill="#e0862e"/>
<ellipse cx="602.4" cy="301.4" rx="1.6" ry="1.95" fill="#d6dc8a"/><ellipse cx="602.4" cy="301.4" rx="0.80" ry="1.07" fill="#b9c94a"/>
<ellipse cx="602.4" cy="317.8" rx="1.6" ry="1.95" fill="#d6dc8a"/><ellipse cx="602.4" cy="317.8" rx="0.80" ry="1.07" fill="#b9c94a"/>
<ellipse cx="602.4" cy="334.2" rx="1.6" ry="1.95" fill="#d6dc8a"/><ellipse cx="602.4" cy="334.2" rx="0.80" ry="1.07" fill="#b9c94a"/>
<ellipse cx="602.4" cy="350.6" rx="1.6" ry="1.95" fill="#d6dc8a"/><ellipse cx="602.4" cy="350.6" rx="0.80" ry="1.07" fill="#b9c94a"/>
<ellipse cx="602.4" cy="367.0" rx="1.6" ry="1.95" fill="#e1d39a"/><ellipse cx="602.4" cy="367.0" rx="0.80" ry="1.07" fill="#e0862e"/>
<ellipse cx="602.4" cy="383.4" rx="1.6" ry="1.95" fill="#e1d39a"/><ellipse cx="602.4" cy="383.4" rx="0.80" ry="1.07" fill="#e0862e"/>
<ellipse cx="602.4" cy="399.8" rx="1.6" ry="1.95" fill="#e1d39a"/><ellipse cx="602.4" cy="399.8" rx="0.80" ry="1.07" fill="#e0862e"/>
<ellipse cx="615.4" cy="293.7" rx="1.6" ry="1.95" fill="#e1d39a"/><ellipse cx="615.4" cy="293.7" rx="0.80" ry="1.07" fill="#e0862e"/>
<ellipse cx="615.4" cy="310.1" rx="1.6" ry="1.95" fill="#e1d39a"/><ellipse cx="615.4" cy="310.1" rx="0.80" ry="1.07" fill="#e0862e"/>
<ellipse cx="615.4" cy="326.5" rx="1.6" ry="1.95" fill="#e1d39a"/><ellipse cx="615.4" cy="326.5" rx="0.80" ry="1.07" fill="#e0862e"/>
<ellipse cx="615.4" cy="342.9" rx="1.6" ry="1.95" fill="#d6dc8a"/><ellipse cx="615.4" cy="342.9" rx="0.80" ry="1.07" fill="#b9c94a"/>
<ellipse cx="615.4" cy="359.3" rx="1.6" ry="1.95" fill="#e1d39a"/><ellipse cx="615.4" cy="359.3" rx="0.80" ry="1.07" fill="#e0862e"/>
<ellipse cx="615.4" cy="375.7" rx="1.6" ry="1.95" fill="#e1d39a"/><ellipse cx="615.4" cy="375.7" rx="0.80" ry="1.07" fill="#e0862e"/>
<ellipse cx="615.4" cy="392.1" rx="1.6" ry="1.95" fill="#e1d39a"/><ellipse cx="615.4" cy="392.1" rx="0.80" ry="1.07" fill="#e0862e"/>
<ellipse cx="628.0" cy="286.4" rx="1.6" ry="1.95" fill="#e1d39a"/><ellipse cx="628.0" cy="286.4" rx="0.80" ry="1.07" fill="#e0862e"/>
<ellipse cx="628.0" cy="302.8" rx="1.6" ry="1.95" fill="#e1d39a"/><ellipse cx="628.0" cy="302.8" rx="0.80" ry="1.07" fill="#e0862e"/>
<ellipse cx="628.0" cy="319.2" rx="1.6" ry="1.95" fill="#d6dc8a"/><ellipse cx="628.0" cy="319.2" rx="0.80" ry="1.07" fill="#b9c94a"/>
<ellipse cx="628.0" cy="335.6" rx="1.6" ry="1.95" fill="#e1d39a"/><ellipse cx="628.0" cy="335.6" rx="0.80" ry="1.07" fill="#e0862e"/>
<ellipse cx="628.0" cy="352.0" rx="1.6" ry="1.95" fill="#d6dc8a"/><ellipse cx="628.0" cy="352.0" rx="0.80" ry="1.07" fill="#b9c94a"/>
<ellipse cx="628.0" cy="368.4" rx="1.6" ry="1.95" fill="#e1d39a"/><ellipse cx="628.0" cy="368.4" rx="0.80" ry="1.07" fill="#e0862e"/>
<ellipse cx="628.0" cy="384.8" rx="1.6" ry="1.95" fill="#e1d39a"/><ellipse cx="628.0" cy="384.8" rx="0.80" ry="1.07" fill="#e0862e"/>
<ellipse cx="628.0" cy="401.2" rx="1.6" ry="1.95" fill="#e1d39a"/><ellipse cx="628.0" cy="401.2" rx="0.80" ry="1.07" fill="#e0862e"/>
<ellipse cx="640.8" cy="297.6" rx="1.5" ry="1.8" fill="#cbd996"/><ellipse cx="640.8" cy="297.6" rx="0.75" ry="0.99" fill="#a5cc6c"/>
<ellipse cx="640.8" cy="314.0" rx="1.5" ry="1.8" fill="#b9d6b0"/><ellipse cx="640.8" cy="314.0" rx="0.75" ry="0.99" fill="#9fd0b4"/>
<ellipse cx="640.8" cy="330.4" rx="1.5" ry="1.8" fill="#b9d6b0"/><ellipse cx="640.8" cy="330.4" rx="0.75" ry="0.99" fill="#9fd0b4"/>
<ellipse cx="640.8" cy="346.8" rx="1.5" ry="1.8" fill="#b9d6b0"/><ellipse cx="640.8" cy="346.8" rx="0.75" ry="0.99" fill="#9fd0b4"/>
<ellipse cx="640.8" cy="363.2" rx="1.5" ry="1.8" fill="#cbd996"/><ellipse cx="640.8" cy="363.2" rx="0.75" ry="0.99" fill="#a5cc6c"/>
<ellipse cx="640.8" cy="379.6" rx="1.5" ry="1.8" fill="#b9d6b0"/><ellipse cx="640.8" cy="379.6" rx="0.75" ry="0.99" fill="#9fd0b4"/>
<ellipse cx="640.8" cy="396.0" rx="1.5" ry="1.8" fill="#b9d6b0"/><ellipse cx="640.8" cy="396.0" rx="0.75" ry="0.99" fill="#9fd0b4"/>
<ellipse cx="652.6" cy="290.0" rx="1.5" ry="1.8" fill="#cbd996"/><ellipse cx="652.6" cy="290.0" rx="0.75" ry="0.99" fill="#a5cc6c"/>
<ellipse cx="652.6" cy="306.4" rx="1.5" ry="1.8" fill="#b9d6b0"/><ellipse cx="652.6" cy="306.4" rx="0.75" ry="0.99" fill="#9fd0b4"/>
<ellipse cx="652.6" cy="322.8" rx="1.5" ry="1.8" fill="#cbd996"/><ellipse cx="652.6" cy="322.8" rx="0.75" ry="0.99" fill="#a5cc6c"/>
<ellipse cx="652.6" cy="339.2" rx="1.5" ry="1.8" fill="#b9d6b0"/><ellipse cx="652.6" cy="339.2" rx="0.75" ry="0.99" fill="#9fd0b4"/>
<ellipse cx="652.6" cy="355.6" rx="1.5" ry="1.8" fill="#cbd996"/><ellipse cx="652.6" cy="355.6" rx="0.75" ry="0.99" fill="#a5cc6c"/>
<ellipse cx="652.6" cy="372.0" rx="1.5" ry="1.8" fill="#b9d6b0"/><ellipse cx="652.6" cy="372.0" rx="0.75" ry="0.99" fill="#9fd0b4"/>
<ellipse cx="652.6" cy="388.4" rx="1.5" ry="1.8" fill="#cbd996"/><ellipse cx="652.6" cy="388.4" rx="0.75" ry="0.99" fill="#a5cc6c"/>
<ellipse cx="652.6" cy="404.8" rx="1.5" ry="1.8" fill="#cbd996"/><ellipse cx="652.6" cy="404.8" rx="0.75" ry="0.99" fill="#a5cc6c"/>
<ellipse cx="663.6" cy="299.8" rx="1.5" ry="1.8" fill="#cbd996"/><ellipse cx="663.6" cy="299.8" rx="0.75" ry="0.99" fill="#a5cc6c"/>
<ellipse cx="663.6" cy="316.2" rx="1.5" ry="1.8" fill="#b9d6b0"/><ellipse cx="663.6" cy="316.2" rx="0.75" ry="0.99" fill="#9fd0b4"/>
<ellipse cx="663.6" cy="332.6" rx="1.5" ry="1.8" fill="#cbd996"/><ellipse cx="663.6" cy="332.6" rx="0.75" ry="0.99" fill="#a5cc6c"/>
<ellipse cx="663.6" cy="349.0" rx="1.5" ry="1.8" fill="#cbd996"/><ellipse cx="663.6" cy="349.0" rx="0.75" ry="0.99" fill="#a5cc6c"/>
<ellipse cx="663.6" cy="365.4" rx="1.5" ry="1.8" fill="#cbd996"/><ellipse cx="663.6" cy="365.4" rx="0.75" ry="0.99" fill="#a5cc6c"/>
<ellipse cx="663.6" cy="381.8" rx="1.5" ry="1.8" fill="#cbd996"/><ellipse cx="663.6" cy="381.8" rx="0.75" ry="0.99" fill="#a5cc6c"/>
<ellipse cx="663.6" cy="398.2" rx="1.5" ry="1.8" fill="#b9d6b0"/><ellipse cx="663.6" cy="398.2" rx="0.75" ry="0.99" fill="#9fd0b4"/>
<ellipse cx="675.5" cy="296.0" rx="1.5" ry="1.8" fill="#b9d6b0"/><ellipse cx="675.5" cy="296.0" rx="0.75" ry="0.99" fill="#9fd0b4"/>
<ellipse cx="675.5" cy="312.4" rx="1.5" ry="1.8" fill="#cbd996"/><ellipse cx="675.5" cy="312.4" rx="0.75" ry="0.99" fill="#a5cc6c"/>
<ellipse cx="675.5" cy="328.8" rx="1.5" ry="1.8" fill="#cbd996"/><ellipse cx="675.5" cy="328.8" rx="0.75" ry="0.99" fill="#a5cc6c"/>
<ellipse cx="675.5" cy="345.2" rx="1.5" ry="1.8" fill="#cbd996"/><ellipse cx="675.5" cy="345.2" rx="0.75" ry="0.99" fill="#a5cc6c"/>
<ellipse cx="675.5" cy="361.6" rx="1.5" ry="1.8" fill="#cbd996"/><ellipse cx="675.5" cy="361.6" rx="0.75" ry="0.99" fill="#a5cc6c"/>
<ellipse cx="675.5" cy="378.0" rx="1.5" ry="1.8" fill="#cbd996"/><ellipse cx="675.5" cy="378.0" rx="0.75" ry="0.99" fill="#a5cc6c"/>
<ellipse cx="675.5" cy="394.4" rx="1.5" ry="1.8" fill="#cbd996"/><ellipse cx="675.5" cy="394.4" rx="0.75" ry="0.99" fill="#a5cc6c"/>
<ellipse cx="686.4" cy="290.0" rx="1.5" ry="1.8" fill="#cbd996"/><ellipse cx="686.4" cy="290.0" rx="0.75" ry="0.99" fill="#a5cc6c"/>
<ellipse cx="686.4" cy="306.4" rx="1.5" ry="1.8" fill="#cbd996"/><ellipse cx="686.4" cy="306.4" rx="0.75" ry="0.99" fill="#a5cc6c"/>
<ellipse cx="686.4" cy="322.8" rx="1.5" ry="1.8" fill="#b9d6b0"/><ellipse cx="686.4" cy="322.8" rx="0.75" ry="0.99" fill="#9fd0b4"/>
<ellipse cx="686.4" cy="339.2" rx="1.5" ry="1.8" fill="#cbd996"/><ellipse cx="686.4" cy="339.2" rx="0.75" ry="0.99" fill="#a5cc6c"/>
<ellipse cx="686.4" cy="355.6" rx="1.5" ry="1.8" fill="#cbd996"/><ellipse cx="686.4" cy="355.6" rx="0.75" ry="0.99" fill="#a5cc6c"/>
<ellipse cx="686.4" cy="372.0" rx="1.5" ry="1.8" fill="#b9d6b0"/><ellipse cx="686.4" cy="372.0" rx="0.75" ry="0.99" fill="#9fd0b4"/>
<ellipse cx="686.4" cy="388.4" rx="1.5" ry="1.8" fill="#b9d6b0"/><ellipse cx="686.4" cy="388.4" rx="0.75" ry="0.99" fill="#9fd0b4"/>
<ellipse cx="686.4" cy="404.8" rx="1.5" ry="1.8" fill="#cbd996"/><ellipse cx="686.4" cy="404.8" rx="0.75" ry="0.99" fill="#a5cc6c"/>
<ellipse cx="697.2" cy="299.2" rx="1.5" ry="1.8" fill="#cbd996"/><ellipse cx="697.2" cy="299.2" rx="0.75" ry="0.99" fill="#a5cc6c"/>
<ellipse cx="697.2" cy="315.6" rx="1.5" ry="1.8" fill="#cbd996"/><ellipse cx="697.2" cy="315.6" rx="0.75" ry="0.99" fill="#a5cc6c"/>
<ellipse cx="697.2" cy="332.0" rx="1.5" ry="1.8" fill="#cbd996"/><ellipse cx="697.2" cy="332.0" rx="0.75" ry="0.99" fill="#a5cc6c"/>
<ellipse cx="697.2" cy="348.4" rx="1.5" ry="1.8" fill="#cbd996"/><ellipse cx="697.2" cy="348.4" rx="0.75" ry="0.99" fill="#a5cc6c"/>
<ellipse cx="697.2" cy="364.8" rx="1.5" ry="1.8" fill="#cbd996"/><ellipse cx="697.2" cy="364.8" rx="0.75" ry="0.99" fill="#a5cc6c"/>
<ellipse cx="697.2" cy="381.2" rx="1.5" ry="1.8" fill="#cbd996"/><ellipse cx="697.2" cy="381.2" rx="0.75" ry="0.99" fill="#a5cc6c"/>
<ellipse cx="697.2" cy="397.6" rx="1.5" ry="1.8" fill="#cbd996"/><ellipse cx="697.2" cy="397.6" rx="0.75" ry="0.99" fill="#a5cc6c"/>
<ellipse cx="707.9" cy="290.7" rx="1.5" ry="1.8" fill="#cbd996"/><ellipse cx="707.9" cy="290.7" rx="0.75" ry="0.99" fill="#a5cc6c"/>
<ellipse cx="707.9" cy="307.1" rx="1.5" ry="1.8" fill="#b9d6b0"/><ellipse cx="707.9" cy="307.1" rx="0.75" ry="0.99" fill="#9fd0b4"/>
<ellipse cx="707.9" cy="323.5" rx="1.5" ry="1.8" fill="#b9d6b0"/><ellipse cx="707.9" cy="323.5" rx="0.75" ry="0.99" fill="#9fd0b4"/>
<ellipse cx="707.9" cy="339.9" rx="1.5" ry="1.8" fill="#cbd996"/><ellipse cx="707.9" cy="339.9" rx="0.75" ry="0.99" fill="#a5cc6c"/>
<ellipse cx="707.9" cy="356.3" rx="1.5" ry="1.8" fill="#cbd996"/><ellipse cx="707.9" cy="356.3" rx="0.75" ry="0.99" fill="#a5cc6c"/>
<ellipse cx="707.9" cy="372.7" rx="1.5" ry="1.8" fill="#cbd996"/><ellipse cx="707.9" cy="372.7" rx="0.75" ry="0.99" fill="#a5cc6c"/>
<ellipse cx="707.9" cy="389.1" rx="1.5" ry="1.8" fill="#cbd996"/><ellipse cx="707.9" cy="389.1" rx="0.75" ry="0.99" fill="#a5cc6c"/>
<ellipse cx="718.2" cy="299.2" rx="1.5" ry="1.8" fill="#cbd996"/><ellipse cx="718.2" cy="299.2" rx="0.75" ry="0.99" fill="#a5cc6c"/>
<ellipse cx="718.2" cy="315.6" rx="1.5" ry="1.8" fill="#cbd996"/><ellipse cx="718.2" cy="315.6" rx="0.75" ry="0.99" fill="#a5cc6c"/>
<ellipse cx="718.2" cy="332.0" rx="1.5" ry="1.8" fill="#cbd996"/><ellipse cx="718.2" cy="332.0" rx="0.75" ry="0.99" fill="#a5cc6c"/>
<ellipse cx="718.2" cy="348.4" rx="1.5" ry="1.8" fill="#b9d6b0"/><ellipse cx="718.2" cy="348.4" rx="0.75" ry="0.99" fill="#9fd0b4"/>
<ellipse cx="718.2" cy="364.8" rx="1.5" ry="1.8" fill="#cbd996"/><ellipse cx="718.2" cy="364.8" rx="0.75" ry="0.99" fill="#a5cc6c"/>
<ellipse cx="718.2" cy="381.2" rx="1.5" ry="1.8" fill="#cbd996"/><ellipse cx="718.2" cy="381.2" rx="0.75" ry="0.99" fill="#a5cc6c"/>
<ellipse cx="718.2" cy="397.6" rx="1.5" ry="1.8" fill="#cbd996"/><ellipse cx="718.2" cy="397.6" rx="0.75" ry="0.99" fill="#a5cc6c"/>
<ellipse cx="727.5" cy="290.7" rx="1.5" ry="1.8" fill="#b9d6b0"/><ellipse cx="727.5" cy="290.7" rx="0.75" ry="0.99" fill="#9fd0b4"/>
<ellipse cx="727.5" cy="307.1" rx="1.5" ry="1.8" fill="#cbd996"/><ellipse cx="727.5" cy="307.1" rx="0.75" ry="0.99" fill="#a5cc6c"/>
<ellipse cx="727.5" cy="323.5" rx="1.5" ry="1.8" fill="#cbd996"/><ellipse cx="727.5" cy="323.5" rx="0.75" ry="0.99" fill="#a5cc6c"/>
<ellipse cx="727.5" cy="339.9" rx="1.5" ry="1.8" fill="#cbd996"/><ellipse cx="727.5" cy="339.9" rx="0.75" ry="0.99" fill="#a5cc6c"/>
<ellipse cx="727.5" cy="356.3" rx="1.5" ry="1.8" fill="#cbd996"/><ellipse cx="727.5" cy="356.3" rx="0.75" ry="0.99" fill="#a5cc6c"/>
<ellipse cx="727.5" cy="372.7" rx="1.5" ry="1.8" fill="#cbd996"/><ellipse cx="727.5" cy="372.7" rx="0.75" ry="0.99" fill="#a5cc6c"/>
<ellipse cx="727.5" cy="389.1" rx="1.5" ry="1.8" fill="#b9d6b0"/><ellipse cx="727.5" cy="389.1" rx="0.75" ry="0.99" fill="#9fd0b4"/>
<ellipse cx="738.3" cy="299.2" rx="1.5" ry="1.8" fill="#b9d6b0"/><ellipse cx="738.3" cy="299.2" rx="0.75" ry="0.99" fill="#9fd0b4"/>
<ellipse cx="738.3" cy="315.6" rx="1.5" ry="1.8" fill="#b9d6b0"/><ellipse cx="738.3" cy="315.6" rx="0.75" ry="0.99" fill="#9fd0b4"/>
<ellipse cx="738.3" cy="332.0" rx="1.5" ry="1.8" fill="#cbd996"/><ellipse cx="738.3" cy="332.0" rx="0.75" ry="0.99" fill="#a5cc6c"/>
<ellipse cx="738.3" cy="348.4" rx="1.5" ry="1.8" fill="#cbd996"/><ellipse cx="738.3" cy="348.4" rx="0.75" ry="0.99" fill="#a5cc6c"/>
<ellipse cx="738.3" cy="364.8" rx="1.5" ry="1.8" fill="#b9d6b0"/><ellipse cx="738.3" cy="364.8" rx="0.75" ry="0.99" fill="#9fd0b4"/>
<ellipse cx="738.3" cy="381.2" rx="1.5" ry="1.8" fill="#b9d6b0"/><ellipse cx="738.3" cy="381.2" rx="0.75" ry="0.99" fill="#9fd0b4"/>
<ellipse cx="738.3" cy="397.6" rx="1.5" ry="1.8" fill="#cbd996"/><ellipse cx="738.3" cy="397.6" rx="0.75" ry="0.99" fill="#a5cc6c"/>
<ellipse cx="749.0" cy="290.7" rx="1.5" ry="1.8" fill="#cbd996"/><ellipse cx="749.0" cy="290.7" rx="0.75" ry="0.99" fill="#a5cc6c"/>
<ellipse cx="749.0" cy="307.1" rx="1.5" ry="1.8" fill="#cbd996"/><ellipse cx="749.0" cy="307.1" rx="0.75" ry="0.99" fill="#a5cc6c"/>
<ellipse cx="749.0" cy="323.5" rx="1.5" ry="1.8" fill="#cbd996"/><ellipse cx="749.0" cy="323.5" rx="0.75" ry="0.99" fill="#a5cc6c"/>
<ellipse cx="749.0" cy="339.9" rx="1.5" ry="1.8" fill="#b9d6b0"/><ellipse cx="749.0" cy="339.9" rx="0.75" ry="0.99" fill="#9fd0b4"/>
<ellipse cx="749.0" cy="356.3" rx="1.5" ry="1.8" fill="#b9d6b0"/><ellipse cx="749.0" cy="356.3" rx="0.75" ry="0.99" fill="#9fd0b4"/>
<ellipse cx="749.0" cy="372.7" rx="1.5" ry="1.8" fill="#b9d6b0"/><ellipse cx="749.0" cy="372.7" rx="0.75" ry="0.99" fill="#9fd0b4"/>
<ellipse cx="749.0" cy="389.1" rx="1.5" ry="1.8" fill="#b9d6b0"/><ellipse cx="749.0" cy="389.1" rx="0.75" ry="0.99" fill="#9fd0b4"/>
<ellipse cx="759.5" cy="299.2" rx="1.5" ry="1.8" fill="#cbd996"/><ellipse cx="759.5" cy="299.2" rx="0.75" ry="0.99" fill="#a5cc6c"/>
<ellipse cx="759.5" cy="315.6" rx="1.5" ry="1.8" fill="#cbd996"/><ellipse cx="759.5" cy="315.6" rx="0.75" ry="0.99" fill="#a5cc6c"/>
<ellipse cx="759.5" cy="332.0" rx="1.5" ry="1.8" fill="#cbd996"/><ellipse cx="759.5" cy="332.0" rx="0.75" ry="0.99" fill="#a5cc6c"/>
<ellipse cx="759.5" cy="348.4" rx="1.5" ry="1.8" fill="#cbd996"/><ellipse cx="759.5" cy="348.4" rx="0.75" ry="0.99" fill="#a5cc6c"/>
<ellipse cx="759.5" cy="364.8" rx="1.5" ry="1.8" fill="#cbd996"/><ellipse cx="759.5" cy="364.8" rx="0.75" ry="0.99" fill="#a5cc6c"/>
<ellipse cx="759.5" cy="381.2" rx="1.5" ry="1.8" fill="#b9d6b0"/><ellipse cx="759.5" cy="381.2" rx="0.75" ry="0.99" fill="#9fd0b4"/>
<ellipse cx="759.5" cy="397.6" rx="1.5" ry="1.8" fill="#b9d6b0"/><ellipse cx="759.5" cy="397.6" rx="0.75" ry="0.99" fill="#9fd0b4"/>
<ellipse cx="772.1" cy="299.8" rx="1.6" ry="1.95" fill="#e1d39a"/><ellipse cx="772.1" cy="299.8" rx="0.80" ry="1.07" fill="#e0862e"/>
<ellipse cx="772.1" cy="316.2" rx="1.6" ry="1.95" fill="#e1d39a"/><ellipse cx="772.1" cy="316.2" rx="0.80" ry="1.07" fill="#e0862e"/>
<ellipse cx="772.1" cy="332.6" rx="1.6" ry="1.95" fill="#d6dc8a"/><ellipse cx="772.1" cy="332.6" rx="0.80" ry="1.07" fill="#b9c94a"/>
<ellipse cx="772.1" cy="349.0" rx="1.6" ry="1.95" fill="#e1d39a"/><ellipse cx="772.1" cy="349.0" rx="0.80" ry="1.07" fill="#e0862e"/>
<ellipse cx="772.1" cy="365.4" rx="1.6" ry="1.95" fill="#e1d39a"/><ellipse cx="772.1" cy="365.4" rx="0.80" ry="1.07" fill="#e0862e"/>
<ellipse cx="772.1" cy="381.8" rx="1.6" ry="1.95" fill="#d6dc8a"/><ellipse cx="772.1" cy="381.8" rx="0.80" ry="1.07" fill="#b9c94a"/>
<ellipse cx="772.1" cy="398.2" rx="1.6" ry="1.95" fill="#e1d39a"/><ellipse cx="772.1" cy="398.2" rx="0.80" ry="1.07" fill="#e0862e"/>
<ellipse cx="783.5" cy="291.4" rx="1.6" ry="1.95" fill="#e1d39a"/><ellipse cx="783.5" cy="291.4" rx="0.80" ry="1.07" fill="#e0862e"/>
<ellipse cx="783.5" cy="307.8" rx="1.6" ry="1.95" fill="#d6dc8a"/><ellipse cx="783.5" cy="307.8" rx="0.80" ry="1.07" fill="#b9c94a"/>
<ellipse cx="783.5" cy="324.2" rx="1.6" ry="1.95" fill="#e1d39a"/><ellipse cx="783.5" cy="324.2" rx="0.80" ry="1.07" fill="#e0862e"/>
<ellipse cx="783.5" cy="340.6" rx="1.6" ry="1.95" fill="#d6dc8a"/><ellipse cx="783.5" cy="340.6" rx="0.80" ry="1.07" fill="#b9c94a"/>
<ellipse cx="783.5" cy="357.0" rx="1.6" ry="1.95" fill="#d6dc8a"/><ellipse cx="783.5" cy="357.0" rx="0.80" ry="1.07" fill="#b9c94a"/>
<ellipse cx="783.5" cy="373.4" rx="1.6" ry="1.95" fill="#e1d39a"/><ellipse cx="783.5" cy="373.4" rx="0.80" ry="1.07" fill="#e0862e"/>
<ellipse cx="783.5" cy="389.8" rx="1.6" ry="1.95" fill="#e1d39a"/><ellipse cx="783.5" cy="389.8" rx="0.80" ry="1.07" fill="#e0862e"/>
<ellipse cx="794.7" cy="300.5" rx="1.6" ry="1.95" fill="#d6dc8a"/><ellipse cx="794.7" cy="300.5" rx="0.80" ry="1.07" fill="#b9c94a"/>
<ellipse cx="794.7" cy="316.9" rx="1.6" ry="1.95" fill="#d6dc8a"/><ellipse cx="794.7" cy="316.9" rx="0.80" ry="1.07" fill="#b9c94a"/>
<ellipse cx="794.7" cy="333.3" rx="1.6" ry="1.95" fill="#e1d39a"/><ellipse cx="794.7" cy="333.3" rx="0.80" ry="1.07" fill="#e0862e"/>
<ellipse cx="794.7" cy="349.7" rx="1.6" ry="1.95" fill="#d6dc8a"/><ellipse cx="794.7" cy="349.7" rx="0.80" ry="1.07" fill="#b9c94a"/>
<ellipse cx="794.7" cy="366.1" rx="1.6" ry="1.95" fill="#d6dc8a"/><ellipse cx="794.7" cy="366.1" rx="0.80" ry="1.07" fill="#b9c94a"/>
<ellipse cx="794.7" cy="382.5" rx="1.6" ry="1.95" fill="#d6dc8a"/><ellipse cx="794.7" cy="382.5" rx="0.80" ry="1.07" fill="#b9c94a"/>
<ellipse cx="794.7" cy="398.9" rx="1.6" ry="1.95" fill="#e1d39a"/><ellipse cx="794.7" cy="398.9" rx="0.80" ry="1.07" fill="#e0862e"/>
<ellipse cx="805.6" cy="294.6" rx="1.5" ry="1.8" fill="#cbd996"/><ellipse cx="805.6" cy="294.6" rx="0.75" ry="0.99" fill="#a5cc6c"/>
<ellipse cx="805.6" cy="311.0" rx="1.5" ry="1.8" fill="#b9d6b0"/><ellipse cx="805.6" cy="311.0" rx="0.75" ry="0.99" fill="#9fd0b4"/>
<ellipse cx="805.6" cy="327.4" rx="1.5" ry="1.8" fill="#cbd996"/><ellipse cx="805.6" cy="327.4" rx="0.75" ry="0.99" fill="#a5cc6c"/>
<ellipse cx="805.6" cy="343.8" rx="1.5" ry="1.8" fill="#cbd996"/><ellipse cx="805.6" cy="343.8" rx="0.75" ry="0.99" fill="#a5cc6c"/>
<ellipse cx="805.6" cy="360.2" rx="1.5" ry="1.8" fill="#cbd996"/><ellipse cx="805.6" cy="360.2" rx="0.75" ry="0.99" fill="#a5cc6c"/>
<ellipse cx="805.6" cy="376.6" rx="1.5" ry="1.8" fill="#b9d6b0"/><ellipse cx="805.6" cy="376.6" rx="0.75" ry="0.99" fill="#9fd0b4"/>
<ellipse cx="805.6" cy="393.0" rx="1.5" ry="1.8" fill="#cbd996"/><ellipse cx="805.6" cy="393.0" rx="0.75" ry="0.99" fill="#a5cc6c"/>
<ellipse cx="816.0" cy="290.0" rx="1.5" ry="1.8" fill="#b9d6b0"/><ellipse cx="816.0" cy="290.0" rx="0.75" ry="0.99" fill="#9fd0b4"/>
<ellipse cx="816.0" cy="306.4" rx="1.6" ry="1.95" fill="#d6dc8a"/><ellipse cx="816.0" cy="306.4" rx="0.80" ry="1.07" fill="#b9c94a"/>
<ellipse cx="816.0" cy="322.8" rx="1.5" ry="1.8" fill="#cbd996"/><ellipse cx="816.0" cy="322.8" rx="0.75" ry="0.99" fill="#a5cc6c"/>
<ellipse cx="816.0" cy="339.2" rx="1.6" ry="1.95" fill="#d6dc8a"/><ellipse cx="816.0" cy="339.2" rx="0.80" ry="1.07" fill="#b9c94a"/>
<ellipse cx="816.0" cy="355.6" rx="1.5" ry="1.8" fill="#cbd996"/><ellipse cx="816.0" cy="355.6" rx="0.75" ry="0.99" fill="#a5cc6c"/>
<ellipse cx="816.0" cy="372.0" rx="1.5" ry="1.8" fill="#cbd996"/><ellipse cx="816.0" cy="372.0" rx="0.75" ry="0.99" fill="#a5cc6c"/>
<ellipse cx="816.0" cy="388.4" rx="1.5" ry="1.8" fill="#cbd996"/><ellipse cx="816.0" cy="388.4" rx="0.75" ry="0.99" fill="#a5cc6c"/>
<ellipse cx="816.0" cy="404.8" rx="1.5" ry="1.8" fill="#cbd996"/><ellipse cx="816.0" cy="404.8" rx="0.75" ry="0.99" fill="#a5cc6c"/>
<ellipse cx="826.3" cy="299.2" rx="1.5" ry="1.8" fill="#cbd996"/><ellipse cx="826.3" cy="299.2" rx="0.75" ry="0.99" fill="#a5cc6c"/>
<ellipse cx="826.3" cy="315.6" rx="1.5" ry="1.8" fill="#cbd996"/><ellipse cx="826.3" cy="315.6" rx="0.75" ry="0.99" fill="#a5cc6c"/>
<ellipse cx="826.3" cy="332.0" rx="1.5" ry="1.8" fill="#cbd996"/><ellipse cx="826.3" cy="332.0" rx="0.75" ry="0.99" fill="#a5cc6c"/>
<ellipse cx="826.3" cy="348.4" rx="1.5" ry="1.8" fill="#cbd996"/><ellipse cx="826.3" cy="348.4" rx="0.75" ry="0.99" fill="#a5cc6c"/>
<ellipse cx="826.3" cy="364.8" rx="1.5" ry="1.8" fill="#cbd996"/><ellipse cx="826.3" cy="364.8" rx="0.75" ry="0.99" fill="#a5cc6c"/>
<ellipse cx="826.3" cy="381.2" rx="1.5" ry="1.8" fill="#cbd996"/><ellipse cx="826.3" cy="381.2" rx="0.75" ry="0.99" fill="#a5cc6c"/>
<ellipse cx="826.3" cy="397.6" rx="1.5" ry="1.8" fill="#cbd996"/><ellipse cx="826.3" cy="397.6" rx="0.75" ry="0.99" fill="#a5cc6c"/>
<ellipse cx="835.7" cy="291.4" rx="1.5" ry="1.8" fill="#cbd996"/><ellipse cx="835.7" cy="291.4" rx="0.75" ry="0.99" fill="#a5cc6c"/>
<ellipse cx="835.7" cy="307.8" rx="1.5" ry="1.8" fill="#cbd996"/><ellipse cx="835.7" cy="307.8" rx="0.75" ry="0.99" fill="#a5cc6c"/>
<ellipse cx="835.7" cy="324.2" rx="1.5" ry="1.8" fill="#cbd996"/><ellipse cx="835.7" cy="324.2" rx="0.75" ry="0.99" fill="#a5cc6c"/>
<ellipse cx="835.7" cy="340.6" rx="1.5" ry="1.8" fill="#cbd996"/><ellipse cx="835.7" cy="340.6" rx="0.75" ry="0.99" fill="#a5cc6c"/>
<ellipse cx="835.7" cy="357.0" rx="1.5" ry="1.8" fill="#b9d6b0"/><ellipse cx="835.7" cy="357.0" rx="0.75" ry="0.99" fill="#9fd0b4"/>
<ellipse cx="835.7" cy="373.4" rx="1.5" ry="1.8" fill="#cbd996"/><ellipse cx="835.7" cy="373.4" rx="0.75" ry="0.99" fill="#a5cc6c"/>
<ellipse cx="835.7" cy="389.8" rx="1.5" ry="1.8" fill="#b9d6b0"/><ellipse cx="835.7" cy="389.8" rx="0.75" ry="0.99" fill="#9fd0b4"/>
<ellipse cx="845.3" cy="299.2" rx="1.5" ry="1.8" fill="#cbd996"/><ellipse cx="845.3" cy="299.2" rx="0.75" ry="0.99" fill="#a5cc6c"/>
<ellipse cx="845.3" cy="315.6" rx="1.6" ry="1.95" fill="#d6dc8a"/><ellipse cx="845.3" cy="315.6" rx="0.80" ry="1.07" fill="#b9c94a"/>
<ellipse cx="845.3" cy="332.0" rx="1.5" ry="1.8" fill="#cbd996"/><ellipse cx="845.3" cy="332.0" rx="0.75" ry="0.99" fill="#a5cc6c"/>
<ellipse cx="845.3" cy="348.4" rx="1.5" ry="1.8" fill="#cbd996"/><ellipse cx="845.3" cy="348.4" rx="0.75" ry="0.99" fill="#a5cc6c"/>
<ellipse cx="845.3" cy="364.8" rx="1.5" ry="1.8" fill="#b9d6b0"/><ellipse cx="845.3" cy="364.8" rx="0.75" ry="0.99" fill="#9fd0b4"/>
<ellipse cx="845.3" cy="381.2" rx="1.5" ry="1.8" fill="#b9d6b0"/><ellipse cx="845.3" cy="381.2" rx="0.75" ry="0.99" fill="#9fd0b4"/>
<ellipse cx="845.3" cy="397.6" rx="1.5" ry="1.8" fill="#cbd996"/><ellipse cx="845.3" cy="397.6" rx="0.75" ry="0.99" fill="#a5cc6c"/>
<ellipse cx="854.8" cy="291.4" rx="1.5" ry="1.8" fill="#cbd996"/><ellipse cx="854.8" cy="291.4" rx="0.75" ry="0.99" fill="#a5cc6c"/>
<ellipse cx="854.8" cy="307.8" rx="1.5" ry="1.8" fill="#cbd996"/><ellipse cx="854.8" cy="307.8" rx="0.75" ry="0.99" fill="#a5cc6c"/>
<ellipse cx="854.8" cy="324.2" rx="1.5" ry="1.8" fill="#cbd996"/><ellipse cx="854.8" cy="324.2" rx="0.75" ry="0.99" fill="#a5cc6c"/>
<ellipse cx="854.8" cy="340.6" rx="1.5" ry="1.8" fill="#cbd996"/><ellipse cx="854.8" cy="340.6" rx="0.75" ry="0.99" fill="#a5cc6c"/>
<ellipse cx="854.8" cy="357.0" rx="1.5" ry="1.8" fill="#cbd996"/><ellipse cx="854.8" cy="357.0" rx="0.75" ry="0.99" fill="#a5cc6c"/>
<ellipse cx="854.8" cy="373.4" rx="1.5" ry="1.8" fill="#cbd996"/><ellipse cx="854.8" cy="373.4" rx="0.75" ry="0.99" fill="#a5cc6c"/>
<ellipse cx="854.8" cy="389.8" rx="1.5" ry="1.8" fill="#b9d6b0"/><ellipse cx="854.8" cy="389.8" rx="0.75" ry="0.99" fill="#9fd0b4"/>
<ellipse cx="864.7" cy="299.8" rx="1.5" ry="1.8" fill="#cbd996"/><ellipse cx="864.7" cy="299.8" rx="0.75" ry="0.99" fill="#a5cc6c"/>
<ellipse cx="864.7" cy="316.2" rx="1.5" ry="1.8" fill="#cbd996"/><ellipse cx="864.7" cy="316.2" rx="0.75" ry="0.99" fill="#a5cc6c"/>
<ellipse cx="864.7" cy="332.6" rx="1.5" ry="1.8" fill="#cbd996"/><ellipse cx="864.7" cy="332.6" rx="0.75" ry="0.99" fill="#a5cc6c"/>
<ellipse cx="864.7" cy="349.0" rx="1.5" ry="1.8" fill="#cbd996"/><ellipse cx="864.7" cy="349.0" rx="0.75" ry="0.99" fill="#a5cc6c"/>
<ellipse cx="864.7" cy="365.4" rx="1.5" ry="1.8" fill="#cbd996"/><ellipse cx="864.7" cy="365.4" rx="0.75" ry="0.99" fill="#a5cc6c"/>
<ellipse cx="864.7" cy="381.8" rx="1.5" ry="1.8" fill="#cbd996"/><ellipse cx="864.7" cy="381.8" rx="0.75" ry="0.99" fill="#a5cc6c"/>
<ellipse cx="864.7" cy="398.2" rx="1.5" ry="1.8" fill="#b9d6b0"/><ellipse cx="864.7" cy="398.2" rx="0.75" ry="0.99" fill="#9fd0b4"/>
<ellipse cx="874.5" cy="295.3" rx="1.5" ry="1.8" fill="#b9d6b0"/><ellipse cx="874.5" cy="295.3" rx="0.75" ry="0.99" fill="#9fd0b4"/>
<ellipse cx="874.5" cy="311.7" rx="1.5" ry="1.8" fill="#cbd996"/><ellipse cx="874.5" cy="311.7" rx="0.75" ry="0.99" fill="#a5cc6c"/>
<ellipse cx="874.5" cy="328.1" rx="1.5" ry="1.8" fill="#cbd996"/><ellipse cx="874.5" cy="328.1" rx="0.75" ry="0.99" fill="#a5cc6c"/>
<ellipse cx="874.5" cy="344.5" rx="1.5" ry="1.8" fill="#b9d6b0"/><ellipse cx="874.5" cy="344.5" rx="0.75" ry="0.99" fill="#9fd0b4"/>
<ellipse cx="874.5" cy="360.9" rx="1.5" ry="1.8" fill="#cbd996"/><ellipse cx="874.5" cy="360.9" rx="0.75" ry="0.99" fill="#a5cc6c"/>
<ellipse cx="874.5" cy="377.3" rx="1.5" ry="1.8" fill="#b9d6b0"/><ellipse cx="874.5" cy="377.3" rx="0.75" ry="0.99" fill="#9fd0b4"/>
<ellipse cx="874.5" cy="393.7" rx="1.5" ry="1.8" fill="#cbd996"/><ellipse cx="874.5" cy="393.7" rx="0.75" ry="0.99" fill="#a5cc6c"/>
<ellipse cx="884.8" cy="289.1" rx="1.5" ry="1.8" fill="#cbd996"/><ellipse cx="884.8" cy="289.1" rx="0.75" ry="0.99" fill="#a5cc6c"/>
<ellipse cx="884.8" cy="305.5" rx="1.5" ry="1.8" fill="#b9d6b0"/><ellipse cx="884.8" cy="305.5" rx="0.75" ry="0.99" fill="#9fd0b4"/>
<ellipse cx="884.8" cy="321.9" rx="1.5" ry="1.8" fill="#cbd996"/><ellipse cx="884.8" cy="321.9" rx="0.75" ry="0.99" fill="#a5cc6c"/>
<ellipse cx="884.8" cy="338.3" rx="1.5" ry="1.8" fill="#b9d6b0"/><ellipse cx="884.8" cy="338.3" rx="0.75" ry="0.99" fill="#9fd0b4"/>
<ellipse cx="884.8" cy="354.7" rx="1.5" ry="1.8" fill="#cbd996"/><ellipse cx="884.8" cy="354.7" rx="0.75" ry="0.99" fill="#a5cc6c"/>
<ellipse cx="884.8" cy="371.1" rx="1.5" ry="1.8" fill="#cbd996"/><ellipse cx="884.8" cy="371.1" rx="0.75" ry="0.99" fill="#a5cc6c"/>
<ellipse cx="884.8" cy="387.5" rx="1.6" ry="1.95" fill="#d6dc8a"/><ellipse cx="884.8" cy="387.5" rx="0.80" ry="1.07" fill="#b9c94a"/>
<ellipse cx="884.8" cy="403.9" rx="1.5" ry="1.8" fill="#cbd996"/><ellipse cx="884.8" cy="403.9" rx="0.75" ry="0.99" fill="#a5cc6c"/>
<ellipse cx="894.4" cy="298.2" rx="1.5" ry="1.8" fill="#cbd996"/><ellipse cx="894.4" cy="298.2" rx="0.75" ry="0.99" fill="#a5cc6c"/>
<ellipse cx="894.4" cy="314.6" rx="1.5" ry="1.8" fill="#cbd996"/><ellipse cx="894.4" cy="314.6" rx="0.75" ry="0.99" fill="#a5cc6c"/>
<ellipse cx="894.4" cy="331.0" rx="1.5" ry="1.8" fill="#b9d6b0"/><ellipse cx="894.4" cy="331.0" rx="0.75" ry="0.99" fill="#9fd0b4"/>
<ellipse cx="894.4" cy="347.4" rx="1.5" ry="1.8" fill="#cbd996"/><ellipse cx="894.4" cy="347.4" rx="0.75" ry="0.99" fill="#a5cc6c"/>
<ellipse cx="894.4" cy="363.8" rx="1.5" ry="1.8" fill="#cbd996"/><ellipse cx="894.4" cy="363.8" rx="0.75" ry="0.99" fill="#a5cc6c"/>
<ellipse cx="894.4" cy="380.2" rx="1.5" ry="1.8" fill="#cbd996"/><ellipse cx="894.4" cy="380.2" rx="0.75" ry="0.99" fill="#a5cc6c"/>
<ellipse cx="894.4" cy="396.6" rx="1.5" ry="1.8" fill="#b9d6b0"/><ellipse cx="894.4" cy="396.6" rx="0.75" ry="0.99" fill="#9fd0b4"/>
<ellipse cx="903.9" cy="290.0" rx="1.6" ry="1.95" fill="#d6dc8a"/><ellipse cx="903.9" cy="290.0" rx="0.80" ry="1.07" fill="#b9c94a"/>
<ellipse cx="903.9" cy="306.4" rx="1.5" ry="1.8" fill="#cbd996"/><ellipse cx="903.9" cy="306.4" rx="0.75" ry="0.99" fill="#a5cc6c"/>
<ellipse cx="903.9" cy="322.8" rx="1.5" ry="1.8" fill="#cbd996"/><ellipse cx="903.9" cy="322.8" rx="0.75" ry="0.99" fill="#a5cc6c"/>
<ellipse cx="903.9" cy="339.2" rx="1.5" ry="1.8" fill="#cbd996"/><ellipse cx="903.9" cy="339.2" rx="0.75" ry="0.99" fill="#a5cc6c"/>
<ellipse cx="903.9" cy="355.6" rx="1.5" ry="1.8" fill="#cbd996"/><ellipse cx="903.9" cy="355.6" rx="0.75" ry="0.99" fill="#a5cc6c"/>
<ellipse cx="903.9" cy="372.0" rx="1.5" ry="1.8" fill="#b9d6b0"/><ellipse cx="903.9" cy="372.0" rx="0.75" ry="0.99" fill="#9fd0b4"/>
<ellipse cx="903.9" cy="388.4" rx="1.5" ry="1.8" fill="#b9d6b0"/><ellipse cx="903.9" cy="388.4" rx="0.75" ry="0.99" fill="#9fd0b4"/>
<ellipse cx="903.9" cy="404.8" rx="1.5" ry="1.8" fill="#b9d6b0"/><ellipse cx="903.9" cy="404.8" rx="0.75" ry="0.99" fill="#9fd0b4"/>
<ellipse cx="913.8" cy="298.2" rx="1.5" ry="1.8" fill="#b9d6b0"/><ellipse cx="913.8" cy="298.2" rx="0.75" ry="0.99" fill="#9fd0b4"/>
<ellipse cx="913.8" cy="314.6" rx="1.5" ry="1.8" fill="#b9d6b0"/><ellipse cx="913.8" cy="314.6" rx="0.75" ry="0.99" fill="#9fd0b4"/>
<ellipse cx="913.8" cy="331.0" rx="1.5" ry="1.8" fill="#cbd996"/><ellipse cx="913.8" cy="331.0" rx="0.75" ry="0.99" fill="#a5cc6c"/>
<ellipse cx="913.8" cy="347.4" rx="1.5" ry="1.8" fill="#cbd996"/><ellipse cx="913.8" cy="347.4" rx="0.75" ry="0.99" fill="#a5cc6c"/>
<ellipse cx="913.8" cy="363.8" rx="1.5" ry="1.8" fill="#b9d6b0"/><ellipse cx="913.8" cy="363.8" rx="0.75" ry="0.99" fill="#9fd0b4"/>
<ellipse cx="913.8" cy="380.2" rx="1.5" ry="1.8" fill="#b9d6b0"/><ellipse cx="913.8" cy="380.2" rx="0.75" ry="0.99" fill="#9fd0b4"/>
<ellipse cx="913.8" cy="396.6" rx="1.5" ry="1.8" fill="#cbd996"/><ellipse cx="913.8" cy="396.6" rx="0.75" ry="0.99" fill="#a5cc6c"/>
<ellipse cx="923.4" cy="290.0" rx="1.5" ry="1.8" fill="#cbd996"/><ellipse cx="923.4" cy="290.0" rx="0.75" ry="0.99" fill="#a5cc6c"/>
<ellipse cx="923.4" cy="306.4" rx="1.5" ry="1.8" fill="#cbd996"/><ellipse cx="923.4" cy="306.4" rx="0.75" ry="0.99" fill="#a5cc6c"/>
<ellipse cx="923.4" cy="322.8" rx="1.5" ry="1.8" fill="#cbd996"/><ellipse cx="923.4" cy="322.8" rx="0.75" ry="0.99" fill="#a5cc6c"/>
<ellipse cx="923.4" cy="339.2" rx="1.5" ry="1.8" fill="#cbd996"/><ellipse cx="923.4" cy="339.2" rx="0.75" ry="0.99" fill="#a5cc6c"/>
<ellipse cx="923.4" cy="355.6" rx="1.5" ry="1.8" fill="#cbd996"/><ellipse cx="923.4" cy="355.6" rx="0.75" ry="0.99" fill="#a5cc6c"/>
<ellipse cx="923.4" cy="372.0" rx="1.5" ry="1.8" fill="#cbd996"/><ellipse cx="923.4" cy="372.0" rx="0.75" ry="0.99" fill="#a5cc6c"/>
<ellipse cx="923.4" cy="388.4" rx="1.5" ry="1.8" fill="#cbd996"/><ellipse cx="923.4" cy="388.4" rx="0.75" ry="0.99" fill="#a5cc6c"/>
<ellipse cx="923.4" cy="404.8" rx="1.5" ry="1.8" fill="#cbd996"/><ellipse cx="923.4" cy="404.8" rx="0.75" ry="0.99" fill="#a5cc6c"/>
<ellipse cx="933.9" cy="298.2" rx="1.5" ry="1.8" fill="#b9d6b0"/><ellipse cx="933.9" cy="298.2" rx="0.75" ry="0.99" fill="#9fd0b4"/>
<ellipse cx="933.9" cy="314.6" rx="1.6" ry="1.95" fill="#d6dc8a"/><ellipse cx="933.9" cy="314.6" rx="0.80" ry="1.07" fill="#b9c94a"/>
<ellipse cx="933.9" cy="331.0" rx="1.6" ry="1.95" fill="#d6dc8a"/><ellipse cx="933.9" cy="331.0" rx="0.80" ry="1.07" fill="#b9c94a"/>
<ellipse cx="933.9" cy="347.4" rx="1.5" ry="1.8" fill="#cbd996"/><ellipse cx="933.9" cy="347.4" rx="0.75" ry="0.99" fill="#a5cc6c"/>
<ellipse cx="933.9" cy="363.8" rx="1.5" ry="1.8" fill="#b9d6b0"/><ellipse cx="933.9" cy="363.8" rx="0.75" ry="0.99" fill="#9fd0b4"/>
<ellipse cx="933.9" cy="380.2" rx="1.6" ry="1.95" fill="#d6dc8a"/><ellipse cx="933.9" cy="380.2" rx="0.80" ry="1.07" fill="#b9c94a"/>
<ellipse cx="933.9" cy="396.6" rx="1.5" ry="1.8" fill="#cbd996"/><ellipse cx="933.9" cy="396.6" rx="0.75" ry="0.99" fill="#a5cc6c"/>
<ellipse cx="943.9" cy="290.0" rx="1.5" ry="1.8" fill="#cbd996"/><ellipse cx="943.9" cy="290.0" rx="0.75" ry="0.99" fill="#a5cc6c"/>
<ellipse cx="943.9" cy="306.4" rx="1.5" ry="1.8" fill="#b9d6b0"/><ellipse cx="943.9" cy="306.4" rx="0.75" ry="0.99" fill="#9fd0b4"/>
<ellipse cx="943.9" cy="322.8" rx="1.5" ry="1.8" fill="#b9d6b0"/><ellipse cx="943.9" cy="322.8" rx="0.75" ry="0.99" fill="#9fd0b4"/>
<ellipse cx="943.9" cy="339.2" rx="1.5" ry="1.8" fill="#cbd996"/><ellipse cx="943.9" cy="339.2" rx="0.75" ry="0.99" fill="#a5cc6c"/>
<ellipse cx="943.9" cy="355.6" rx="1.5" ry="1.8" fill="#cbd996"/><ellipse cx="943.9" cy="355.6" rx="0.75" ry="0.99" fill="#a5cc6c"/>
<ellipse cx="943.9" cy="372.0" rx="1.5" ry="1.8" fill="#cbd996"/><ellipse cx="943.9" cy="372.0" rx="0.75" ry="0.99" fill="#a5cc6c"/>
<ellipse cx="943.9" cy="388.4" rx="1.5" ry="1.8" fill="#cbd996"/><ellipse cx="943.9" cy="388.4" rx="0.75" ry="0.99" fill="#a5cc6c"/>
<ellipse cx="943.9" cy="404.8" rx="1.5" ry="1.8" fill="#b9d6b0"/><ellipse cx="943.9" cy="404.8" rx="0.75" ry="0.99" fill="#9fd0b4"/>
<ellipse cx="954.2" cy="299.8" rx="1.5" ry="1.8" fill="#cbd996"/><ellipse cx="954.2" cy="299.8" rx="0.75" ry="0.99" fill="#a5cc6c"/>
<ellipse cx="954.2" cy="316.2" rx="1.5" ry="1.8" fill="#cbd996"/><ellipse cx="954.2" cy="316.2" rx="0.75" ry="0.99" fill="#a5cc6c"/>
<ellipse cx="954.2" cy="332.6" rx="1.5" ry="1.8" fill="#b9d6b0"/><ellipse cx="954.2" cy="332.6" rx="0.75" ry="0.99" fill="#9fd0b4"/>
<ellipse cx="954.2" cy="349.0" rx="1.5" ry="1.8" fill="#cbd996"/><ellipse cx="954.2" cy="349.0" rx="0.75" ry="0.99" fill="#a5cc6c"/>
<ellipse cx="954.2" cy="365.4" rx="1.5" ry="1.8" fill="#cbd996"/><ellipse cx="954.2" cy="365.4" rx="0.75" ry="0.99" fill="#a5cc6c"/>
<ellipse cx="954.2" cy="381.8" rx="1.5" ry="1.8" fill="#b9d6b0"/><ellipse cx="954.2" cy="381.8" rx="0.75" ry="0.99" fill="#9fd0b4"/>
<ellipse cx="954.2" cy="398.2" rx="1.5" ry="1.8" fill="#b9d6b0"/><ellipse cx="954.2" cy="398.2" rx="0.75" ry="0.99" fill="#9fd0b4"/>
<ellipse cx="964.5" cy="294.1" rx="1.5" ry="1.8" fill="#cbd996"/><ellipse cx="964.5" cy="294.1" rx="0.75" ry="0.99" fill="#a5cc6c"/>
<ellipse cx="964.5" cy="310.5" rx="1.5" ry="1.8" fill="#cbd996"/><ellipse cx="964.5" cy="310.5" rx="0.75" ry="0.99" fill="#a5cc6c"/>
<ellipse cx="964.5" cy="326.9" rx="1.5" ry="1.8" fill="#cbd996"/><ellipse cx="964.5" cy="326.9" rx="0.75" ry="0.99" fill="#a5cc6c"/>
<ellipse cx="964.5" cy="343.3" rx="1.5" ry="1.8" fill="#b9d6b0"/><ellipse cx="964.5" cy="343.3" rx="0.75" ry="0.99" fill="#9fd0b4"/>
<ellipse cx="964.5" cy="359.7" rx="1.5" ry="1.8" fill="#cbd996"/><ellipse cx="964.5" cy="359.7" rx="0.75" ry="0.99" fill="#a5cc6c"/>
<ellipse cx="964.5" cy="376.1" rx="1.5" ry="1.8" fill="#b9d6b0"/><ellipse cx="964.5" cy="376.1" rx="0.75" ry="0.99" fill="#9fd0b4"/>
<ellipse cx="964.5" cy="392.5" rx="1.5" ry="1.8" fill="#b9d6b0"/><ellipse cx="964.5" cy="392.5" rx="0.75" ry="0.99" fill="#9fd0b4"/>
<ellipse cx="974.7" cy="289.1" rx="1.6" ry="1.95" fill="#e1d39a"/><ellipse cx="974.7" cy="289.1" rx="0.80" ry="1.07" fill="#e0862e"/>
<ellipse cx="974.7" cy="303.4" rx="1.6" ry="1.95" fill="#e3d3a6"/><ellipse cx="974.7" cy="303.4" rx="0.80" ry="1.07" fill="#d8262c"/>
<ellipse cx="974.7" cy="317.7" rx="1.6" ry="1.95" fill="#e1d39a"/><ellipse cx="974.7" cy="317.7" rx="0.80" ry="1.07" fill="#e0862e"/>
<ellipse cx="974.7" cy="332.0" rx="1.6" ry="1.95" fill="#e3d3a6"/><ellipse cx="974.7" cy="332.0" rx="0.80" ry="1.07" fill="#d8262c"/>
<ellipse cx="974.7" cy="346.3" rx="1.6" ry="1.95" fill="#e1d39a"/><ellipse cx="974.7" cy="346.3" rx="0.80" ry="1.07" fill="#e0862e"/>
<ellipse cx="974.7" cy="360.6" rx="1.6" ry="1.95" fill="#e1d39a"/><ellipse cx="974.7" cy="360.6" rx="0.80" ry="1.07" fill="#e0862e"/>
<ellipse cx="974.7" cy="374.9" rx="1.6" ry="1.95" fill="#e3d3a6"/><ellipse cx="974.7" cy="374.9" rx="0.80" ry="1.07" fill="#d8262c"/>
<ellipse cx="974.7" cy="389.2" rx="1.6" ry="1.95" fill="#e3d3a6"/><ellipse cx="974.7" cy="389.2" rx="0.80" ry="1.07" fill="#d8262c"/>
<ellipse cx="974.7" cy="403.5" rx="1.6" ry="1.95" fill="#e1d39a"/><ellipse cx="974.7" cy="403.5" rx="0.80" ry="1.07" fill="#e0862e"/>
<ellipse cx="985.0" cy="297.6" rx="1.6" ry="1.95" fill="#e3d3a6"/><ellipse cx="985.0" cy="297.6" rx="0.80" ry="1.07" fill="#d8262c"/>
<ellipse cx="985.0" cy="311.9" rx="1.6" ry="1.95" fill="#e3d3a6"/><ellipse cx="985.0" cy="311.9" rx="0.80" ry="1.07" fill="#d8262c"/>
<ellipse cx="985.0" cy="326.2" rx="1.6" ry="1.95" fill="#e1d39a"/><ellipse cx="985.0" cy="326.2" rx="0.80" ry="1.07" fill="#e0862e"/>
<ellipse cx="985.0" cy="340.5" rx="1.6" ry="1.95" fill="#e1d39a"/><ellipse cx="985.0" cy="340.5" rx="0.80" ry="1.07" fill="#e0862e"/>
<ellipse cx="985.0" cy="354.8" rx="1.6" ry="1.95" fill="#e1d39a"/><ellipse cx="985.0" cy="354.8" rx="0.80" ry="1.07" fill="#e0862e"/>
<ellipse cx="985.0" cy="369.1" rx="1.6" ry="1.95" fill="#e3d3a6"/><ellipse cx="985.0" cy="369.1" rx="0.80" ry="1.07" fill="#d8262c"/>
<ellipse cx="985.0" cy="383.4" rx="1.6" ry="1.95" fill="#e3d3a6"/><ellipse cx="985.0" cy="383.4" rx="0.80" ry="1.07" fill="#d8262c"/>
<ellipse cx="985.0" cy="397.7" rx="1.6" ry="1.95" fill="#e3d3a6"/><ellipse cx="985.0" cy="397.7" rx="0.80" ry="1.07" fill="#d8262c"/>
<ellipse cx="995.5" cy="290.7" rx="1.6" ry="1.95" fill="#e1d39a"/><ellipse cx="995.5" cy="290.7" rx="0.80" ry="1.07" fill="#e0862e"/>
<ellipse cx="995.5" cy="305.0" rx="1.6" ry="1.95" fill="#e3d3a6"/><ellipse cx="995.5" cy="305.0" rx="0.80" ry="1.07" fill="#d8262c"/>
<ellipse cx="995.5" cy="319.3" rx="1.6" ry="1.95" fill="#e3d3a6"/><ellipse cx="995.5" cy="319.3" rx="0.80" ry="1.07" fill="#d8262c"/>
<ellipse cx="995.5" cy="333.6" rx="1.6" ry="1.95" fill="#e3d3a6"/><ellipse cx="995.5" cy="333.6" rx="0.80" ry="1.07" fill="#d8262c"/>
<ellipse cx="995.5" cy="347.9" rx="1.6" ry="1.95" fill="#e1d39a"/><ellipse cx="995.5" cy="347.9" rx="0.80" ry="1.07" fill="#e0862e"/>
<ellipse cx="995.5" cy="362.2" rx="1.6" ry="1.95" fill="#e1d39a"/><ellipse cx="995.5" cy="362.2" rx="0.80" ry="1.07" fill="#e0862e"/>
<ellipse cx="995.5" cy="376.5" rx="1.6" ry="1.95" fill="#e1d39a"/><ellipse cx="995.5" cy="376.5" rx="0.80" ry="1.07" fill="#e0862e"/>
<ellipse cx="995.5" cy="390.8" rx="1.6" ry="1.95" fill="#e1d39a"/><ellipse cx="995.5" cy="390.8" rx="0.80" ry="1.07" fill="#e0862e"/>
<ellipse cx="1006.3" cy="298.2" rx="1.6" ry="1.95" fill="#e1d39a"/><ellipse cx="1006.3" cy="298.2" rx="0.80" ry="1.07" fill="#e0862e"/>
<ellipse cx="1006.3" cy="312.5" rx="1.6" ry="1.95" fill="#e3d3a6"/><ellipse cx="1006.3" cy="312.5" rx="0.80" ry="1.07" fill="#d8262c"/>
<ellipse cx="1006.3" cy="326.8" rx="1.6" ry="1.95" fill="#e1d39a"/><ellipse cx="1006.3" cy="326.8" rx="0.80" ry="1.07" fill="#e0862e"/>
<ellipse cx="1006.3" cy="341.1" rx="1.6" ry="1.95" fill="#e1d39a"/><ellipse cx="1006.3" cy="341.1" rx="0.80" ry="1.07" fill="#e0862e"/>
<ellipse cx="1006.3" cy="355.4" rx="1.6" ry="1.95" fill="#e1d39a"/><ellipse cx="1006.3" cy="355.4" rx="0.80" ry="1.07" fill="#e0862e"/>
<ellipse cx="1006.3" cy="369.7" rx="1.6" ry="1.95" fill="#e3d3a6"/><ellipse cx="1006.3" cy="369.7" rx="0.80" ry="1.07" fill="#d8262c"/>
<ellipse cx="1006.3" cy="384.0" rx="1.6" ry="1.95" fill="#e1d39a"/><ellipse cx="1006.3" cy="384.0" rx="0.80" ry="1.07" fill="#e0862e"/>
<ellipse cx="1006.3" cy="398.3" rx="1.6" ry="1.95" fill="#e1d39a"/><ellipse cx="1006.3" cy="398.3" rx="0.80" ry="1.07" fill="#e0862e"/>
<ellipse cx="1016.5" cy="290.7" rx="1.6" ry="1.95" fill="#e3d3a6"/><ellipse cx="1016.5" cy="290.7" rx="0.80" ry="1.07" fill="#d8262c"/>
<ellipse cx="1016.5" cy="305.0" rx="1.6" ry="1.95" fill="#e3d3a6"/><ellipse cx="1016.5" cy="305.0" rx="0.80" ry="1.07" fill="#d8262c"/>
<ellipse cx="1016.5" cy="319.3" rx="1.6" ry="1.95" fill="#e1d39a"/><ellipse cx="1016.5" cy="319.3" rx="0.80" ry="1.07" fill="#e0862e"/>
<ellipse cx="1016.5" cy="333.6" rx="1.6" ry="1.95" fill="#e1d39a"/><ellipse cx="1016.5" cy="333.6" rx="0.80" ry="1.07" fill="#e0862e"/>
<ellipse cx="1016.5" cy="347.9" rx="1.6" ry="1.95" fill="#e1d39a"/><ellipse cx="1016.5" cy="347.9" rx="0.80" ry="1.07" fill="#e0862e"/>
<ellipse cx="1016.5" cy="362.2" rx="1.6" ry="1.95" fill="#e1d39a"/><ellipse cx="1016.5" cy="362.2" rx="0.80" ry="1.07" fill="#e0862e"/>
<ellipse cx="1016.5" cy="376.5" rx="1.6" ry="1.95" fill="#e3d3a6"/><ellipse cx="1016.5" cy="376.5" rx="0.80" ry="1.07" fill="#d8262c"/>
<ellipse cx="1016.5" cy="390.8" rx="1.6" ry="1.95" fill="#e1d39a"/><ellipse cx="1016.5" cy="390.8" rx="0.80" ry="1.07" fill="#e0862e"/>
<ellipse cx="1027.3" cy="297.6" rx="1.6" ry="1.95" fill="#e1d39a"/><ellipse cx="1027.3" cy="297.6" rx="0.80" ry="1.07" fill="#e0862e"/>
<ellipse cx="1027.3" cy="311.9" rx="1.6" ry="1.95" fill="#e1d39a"/><ellipse cx="1027.3" cy="311.9" rx="0.80" ry="1.07" fill="#e0862e"/>
<ellipse cx="1027.3" cy="326.2" rx="1.6" ry="1.95" fill="#e3d3a6"/><ellipse cx="1027.3" cy="326.2" rx="0.80" ry="1.07" fill="#d8262c"/>
<ellipse cx="1027.3" cy="340.5" rx="1.6" ry="1.95" fill="#e1d39a"/><ellipse cx="1027.3" cy="340.5" rx="0.80" ry="1.07" fill="#e0862e"/>
<ellipse cx="1027.3" cy="354.8" rx="1.6" ry="1.95" fill="#e3d3a6"/><ellipse cx="1027.3" cy="354.8" rx="0.80" ry="1.07" fill="#d8262c"/>
<ellipse cx="1027.3" cy="369.1" rx="1.6" ry="1.95" fill="#e3d3a6"/><ellipse cx="1027.3" cy="369.1" rx="0.80" ry="1.07" fill="#d8262c"/>
<ellipse cx="1027.3" cy="383.4" rx="1.6" ry="1.95" fill="#e1d39a"/><ellipse cx="1027.3" cy="383.4" rx="0.80" ry="1.07" fill="#e0862e"/>
<ellipse cx="1027.3" cy="397.7" rx="1.6" ry="1.95" fill="#e1d39a"/><ellipse cx="1027.3" cy="397.7" rx="0.80" ry="1.07" fill="#e0862e"/>
<ellipse cx="1038.7" cy="299.8" rx="1.6" ry="1.95" fill="#e1d39a"/><ellipse cx="1038.7" cy="299.8" rx="0.80" ry="1.07" fill="#e0862e"/>
<ellipse cx="1038.7" cy="314.1" rx="1.6" ry="1.95" fill="#e3d3a6"/><ellipse cx="1038.7" cy="314.1" rx="0.80" ry="1.07" fill="#d8262c"/>
<ellipse cx="1038.7" cy="328.4" rx="1.6" ry="1.95" fill="#e3d3a6"/><ellipse cx="1038.7" cy="328.4" rx="0.80" ry="1.07" fill="#d8262c"/>
<ellipse cx="1038.7" cy="342.7" rx="1.6" ry="1.95" fill="#e1d39a"/><ellipse cx="1038.7" cy="342.7" rx="0.80" ry="1.07" fill="#e0862e"/>
<ellipse cx="1038.7" cy="357.0" rx="1.6" ry="1.95" fill="#e1d39a"/><ellipse cx="1038.7" cy="357.0" rx="0.80" ry="1.07" fill="#e0862e"/>
<ellipse cx="1038.7" cy="371.3" rx="1.6" ry="1.95" fill="#e1d39a"/><ellipse cx="1038.7" cy="371.3" rx="0.80" ry="1.07" fill="#e0862e"/>
<ellipse cx="1038.7" cy="385.6" rx="1.6" ry="1.95" fill="#e1d39a"/><ellipse cx="1038.7" cy="385.6" rx="0.80" ry="1.07" fill="#e0862e"/>
<ellipse cx="1038.7" cy="399.9" rx="1.6" ry="1.95" fill="#e1d39a"/><ellipse cx="1038.7" cy="399.9" rx="0.80" ry="1.07" fill="#e0862e"/>
<ellipse cx="1049.6" cy="292.3" rx="1.6" ry="1.95" fill="#e3d3a6"/><ellipse cx="1049.6" cy="292.3" rx="0.80" ry="1.07" fill="#d8262c"/>
<ellipse cx="1049.6" cy="306.6" rx="1.6" ry="1.95" fill="#e1d39a"/><ellipse cx="1049.6" cy="306.6" rx="0.80" ry="1.07" fill="#e0862e"/>
<ellipse cx="1049.6" cy="320.9" rx="1.6" ry="1.95" fill="#e1d39a"/><ellipse cx="1049.6" cy="320.9" rx="0.80" ry="1.07" fill="#e0862e"/>
<ellipse cx="1049.6" cy="335.2" rx="1.6" ry="1.95" fill="#e1d39a"/><ellipse cx="1049.6" cy="335.2" rx="0.80" ry="1.07" fill="#e0862e"/>
<ellipse cx="1049.6" cy="349.5" rx="1.6" ry="1.95" fill="#e1d39a"/><ellipse cx="1049.6" cy="349.5" rx="0.80" ry="1.07" fill="#e0862e"/>
<ellipse cx="1049.6" cy="363.8" rx="1.6" ry="1.95" fill="#e1d39a"/><ellipse cx="1049.6" cy="363.8" rx="0.80" ry="1.07" fill="#e0862e"/>
<ellipse cx="1049.6" cy="378.1" rx="1.6" ry="1.95" fill="#e3d3a6"/><ellipse cx="1049.6" cy="378.1" rx="0.80" ry="1.07" fill="#d8262c"/>
<ellipse cx="1049.6" cy="392.4" rx="1.6" ry="1.95" fill="#e3d3a6"/><ellipse cx="1049.6" cy="392.4" rx="0.80" ry="1.07" fill="#d8262c"/>
</g>
<polygon points="119.96,655.6 120.91,600.5 121.60,563.5 122.40,555.5 124.40,555.5 125.20,563.5 125.89,600.5 126.84,655.6" fill="#96ceea"/>
<polygon points="122.71,655.6 123.4,597.7 124.09,655.6" fill="#fff"/>
<polygon points="139.80,655.6 140.74,577.1 141.43,524.2 142.21,512.8 144.19,512.8 144.97,524.2 145.66,577.1 146.60,655.6" fill="#93cbe8"/>
<polygon points="142.55,655.6 143.2,574.4 143.85,655.6" fill="#fff"/>
<polygon points="159.34,655.6 160.26,577.1 160.95,524.2 161.71,512.8 163.69,512.8 164.45,524.2 165.14,577.1 166.06,655.6" fill="#90c8e6"/>
<polygon points="162.10,655.6 162.7,575.7 163.30,655.6" fill="#fff"/>
<polygon points="177.38,655.6 178.29,577.1 178.97,524.2 179.72,512.8 181.68,512.8 182.43,524.2 183.11,577.1 184.02,655.6" fill="#8ec6e5"/>
<polygon points="180.14,655.6 180.7,577.0 181.26,655.6" fill="#fff"/>
<polygon points="194.81,655.6 195.72,576.7 196.39,523.7 197.12,512.2 199.08,512.2 199.81,523.7 200.48,576.7 201.39,655.6" fill="#8bc4e3"/>
<polygon points="197.58,655.6 198.1,577.9 198.62,655.6" fill="#fff"/>
<polygon points="211.85,655.6 212.74,577.1 213.40,524.2 214.13,512.8 216.07,512.8 216.80,524.2 217.46,577.1 218.35,655.6" fill="#89c2e2"/>
<polygon points="214.62,655.6 215.1,579.4 215.58,655.6" fill="#fff"/>
<polygon points="227.68,655.6 228.57,578.8 229.22,527.1 229.93,515.9 231.87,515.9 232.58,527.1 233.23,578.8 234.12,655.6" fill="#87c0e0"/>
<polygon points="230.45,655.6 230.9,582.1 231.35,655.6" fill="#fff"/>
<polygon points="243.01,655.6 243.89,582.1 244.54,532.7 245.23,522.0 247.17,522.0 247.86,532.7 248.51,582.1 249.39,655.6" fill="#85bedf"/>
<polygon points="245.79,655.6 246.2,586.3 246.61,655.6" fill="#fff"/>
<polygon points="257.04,655.6 257.91,584.6 258.55,536.8 259.24,526.5 261.16,526.5 261.85,536.8 262.49,584.6 263.36,655.6" fill="#83bcde"/>
<polygon points="259.82,655.6 260.2,589.5 260.58,655.6" fill="#fff"/>
<polygon points="271.07,655.6 271.93,587.6 272.57,541.9 273.24,532.0 275.16,532.0 275.83,541.9 276.47,587.6 277.33,655.6" fill="#81badd"/>
<polygon points="273.85,655.6 274.2,593.2 274.55,655.6" fill="#fff"/>
<polygon points="284.20,655.6 285.05,588.8 285.68,543.9 286.35,534.2 288.25,534.2 288.92,543.9 289.55,588.8 290.40,655.6" fill="#7fb8dc"/>
<polygon points="286.98,655.6 287.3,595.1 287.62,655.6" fill="#fff"/>
<polygon points="297.03,655.6 297.87,589.7 298.50,545.3 299.15,535.7 301.05,535.7 301.70,545.3 302.33,589.7 303.17,655.6" fill="#7db7da"/>
<polygon points="299.81,655.6 300.1,596.6 300.39,655.6" fill="#fff"/>
<polygon points="309.15,655.6 309.99,589.7 310.61,545.3 311.25,535.7 313.15,535.7 313.79,545.3 314.41,589.7 315.25,655.6" fill="#7bb5d9"/>
<polygon points="311.94,655.6 312.2,597.3 312.46,655.6" fill="#fff"/>
<polygon points="321.38,655.6 322.21,589.3 322.82,544.6 323.46,535.0 325.34,535.0 325.98,544.6 326.59,589.3 327.42,655.6" fill="#7ab3d8"/>
<polygon points="324.16,655.6 324.4,597.6 324.64,655.6" fill="#fff"/>
<polygon points="333.30,655.6 334.13,590.1 334.74,546.1 335.36,536.6 337.24,536.6 337.86,546.1 338.47,590.1 339.30,655.6" fill="#78b2d7"/>
<polygon points="336.09,655.6 336.3,599.1 336.51,655.6" fill="#fff"/>
<polygon points="345.23,655.6 346.05,590.1 346.65,546.1 347.26,536.6 349.14,536.6 349.75,546.1 350.35,590.1 351.17,655.6" fill="#76b0d6"/>
<polygon points="348.02,655.6 348.2,599.8 348.38,655.6" fill="#fff"/>
<polygon points="356.75,655.6 357.56,591.3 358.16,548.1 358.76,538.7 360.64,538.7 361.24,548.1 361.84,591.3 362.65,655.6" fill="#74aed5"/>
<polygon points="359.54,655.6 359.7,601.4 359.86,655.6" fill="#fff"/>
<polygon points="368.37,655.6 369.18,591.0 369.77,547.5 370.37,538.1 372.23,538.1 372.83,547.5 373.42,591.0 374.23,655.6" fill="#72acd3"/>
<polygon points="379.69,655.6 380.49,587.1 381.08,541.1 381.67,531.1 383.53,531.1 384.12,541.1 384.71,587.1 385.51,655.6" fill="#70aad2"/>
<polygon points="390.92,655.6 391.71,578.8 392.30,527.1 392.87,515.9 394.73,515.9 395.30,527.1 395.89,578.8 396.68,655.6" fill="#6ea8d1"/>
<polygon points="403.14,655.6 403.93,571.6 404.51,515.0 405.08,502.8 406.92,502.8 407.49,515.0 408.07,571.6 408.86,655.6" fill="#6ba6cf"/>
<polygon points="416.57,655.6 417.35,573.0 417.92,517.5 418.48,505.5 420.32,505.5 420.88,517.5 421.45,573.0 422.23,655.6" fill="#68a3cd"/>
<polygon points="429.19,655.6 429.96,577.1 430.53,524.2 431.08,512.8 432.92,512.8 433.47,524.2 434.04,577.1 434.81,655.6" fill="#66a1cc"/>
<polygon points="440.71,655.6 441.48,579.6 442.05,528.5 442.59,517.4 444.41,517.4 444.95,528.5 445.52,579.6 446.29,655.6" fill="#649eca"/>
<polygon points="452.03,655.6 452.80,580.1 453.36,529.3 453.89,518.3 455.71,518.3 456.24,529.3 456.80,580.1 457.57,655.6" fill="#619cc9"/>
<polygon points="463.06,655.6 463.81,579.6 464.37,528.5 464.89,517.4 466.71,517.4 467.23,528.5 467.79,579.6 468.54,655.6" fill="#5f9ac8"/>
<polygon points="473.68,655.6 474.43,580.7 474.98,530.4 475.50,519.5 477.30,519.5 477.82,530.4 478.37,580.7 479.12,655.6" fill="#5d98c6"/>
<polygon points="484.70,655.6 485.44,581.6 485.99,531.9 486.50,521.1 488.30,521.1 488.81,531.9 489.36,581.6 490.10,655.6" fill="#5b96c5"/>
<polygon points="495.02,655.6 495.76,583.3 496.30,534.6 496.80,524.1 498.60,524.1 499.10,534.6 499.64,583.3 500.38,655.6" fill="#5994c4"/>
<polygon points="505.74,655.6 506.47,581.8 507.01,532.1 507.50,521.4 509.30,521.4 509.79,532.1 510.33,581.8 511.06,655.6" fill="#5792c2"/>
<polygon points="516.16,655.6 516.89,580.7 517.42,530.4 517.91,519.5 519.69,519.5 520.18,530.4 520.71,580.7 521.44,655.6" fill="#5590c1"/>
<polygon points="526.48,655.6 527.20,579.6 527.73,528.5 528.21,517.4 529.99,517.4 530.47,528.5 531.00,579.6 531.72,655.6" fill="#538ec0"/>
<polygon points="536.90,655.6 537.61,579.6 538.14,528.5 538.61,517.4 540.39,517.4 540.86,528.5 541.39,579.6 542.10,655.6" fill="#518cbe"/>
<polygon points="547.22,655.6 547.93,578.4 548.45,526.5 548.92,515.3 550.68,515.3 551.15,526.5 551.67,578.4 552.38,655.6" fill="#4f8abd"/>
<polygon points="557.64,655.6 558.34,577.1 558.86,524.2 559.32,512.8 561.08,512.8 561.54,524.2 562.06,577.1 562.76,655.6" fill="#4c88bc"/>
<polygon points="567.66,655.6 568.36,577.4 568.87,524.8 569.32,513.4 571.08,513.4 571.53,524.8 572.04,577.4 572.74,655.6" fill="#4a86bb"/>
<polygon points="578.08,655.6 578.77,577.9 579.28,525.7 579.72,514.4 581.48,514.4 581.92,525.7 582.43,577.9 583.12,655.6" fill="#4884b9"/>
<polygon points="588.09,655.6 588.78,580.6 589.29,530.1 589.73,519.2 591.47,519.2 591.91,530.1 592.42,580.6 593.11,655.6" fill="#4783b8"/>
<polygon points="597.50,655.6 598.19,584.1 598.70,536.0 599.13,525.6 600.87,525.6 601.30,536.0 601.81,584.1 602.50,655.6" fill="#4682b8"/>
<polygon points="606.71,655.6 607.40,586.8 607.90,540.5 608.33,530.5 610.07,530.5 610.50,540.5 611.00,586.8 611.69,655.6" fill="#4481b7"/>
<polygon points="615.82,655.6 616.51,586.3 617.01,539.7 617.43,529.6 619.17,529.6 619.59,539.7 620.09,586.3 620.78,655.6" fill="#4380b6"/>
<polygon points="625.04,655.6 625.71,586.0 626.21,539.1 626.64,529.0 628.36,529.0 628.79,539.1 629.29,586.0 629.96,655.6" fill="#427fb5"/>
<polygon points="634.15,655.6 634.82,585.1 635.32,537.7 635.74,527.5 637.46,527.5 637.88,537.7 638.38,585.1 639.05,655.6" fill="#417eb5"/>
<polygon points="643.26,655.6 643.93,584.6 644.43,536.8 644.84,526.5 646.56,526.5 646.97,536.8 647.47,584.6 648.14,655.6" fill="#3f7db4"/>
<polygon points="652.47,655.6 653.14,584.6 653.63,536.8 654.04,526.5 655.76,526.5 656.17,536.8 656.66,584.6 657.33,655.6" fill="#3e7cb3"/>
<polygon points="661.88,655.6 662.55,584.6 663.04,536.8 663.45,526.5 665.15,526.5 665.56,536.8 666.05,584.6 666.72,655.6" fill="#3d7bb2"/>
<polygon points="670.99,655.6 671.65,585.1 672.14,537.7 672.55,527.5 674.25,527.5 674.66,537.7 675.15,585.1 675.81,655.6" fill="#3b7ab2"/>
<polygon points="679.90,655.6 680.56,584.6 681.05,536.8 681.45,526.5 683.15,526.5 683.55,536.8 684.04,584.6 684.70,655.6" fill="#3a79b1"/>
<polygon points="689.01,655.6 689.67,585.1 690.15,537.7 690.55,527.5 692.25,527.5 692.65,537.7 693.13,585.1 693.79,655.6" fill="#3978b0"/>
<polygon points="697.82,655.6 698.48,584.1 698.95,536.0 699.36,525.6 701.04,525.6 701.45,536.0 701.92,584.1 702.58,655.6" fill="#3877af"/>
<polygon points="706.43,655.6 707.08,583.3 707.55,534.6 707.96,524.1 709.64,524.1 710.05,534.6 710.52,583.3 711.17,655.6" fill="#3776af"/>
<polygon points="715.24,655.6 715.89,582.1 716.35,532.7 716.76,522.0 718.44,522.0 718.85,532.7 719.31,582.1 719.96,655.6" fill="#3575ae"/>
<polygon points="723.95,655.6 724.60,581.6 725.05,531.8 725.46,521.0 727.14,521.0 727.55,531.8 728.00,581.6 728.65,655.6" fill="#3474ad"/>
<polygon points="732.66,655.6 733.31,580.9 733.75,530.7 734.17,519.8 735.83,519.8 736.25,530.7 736.69,580.9 737.34,655.6" fill="#3373ac"/>
<polygon points="741.47,655.6 742.11,582.1 742.55,532.7 742.97,522.0 744.63,522.0 745.05,532.7 745.49,582.1 746.13,655.6" fill="#3272ac"/>
<polygon points="749.98,655.6 750.62,584.1 751.05,536.0 751.47,525.6 753.13,525.6 753.55,536.0 753.98,584.1 754.62,655.6" fill="#3171ab"/>
<polygon points="758.49,655.6 759.13,584.9 759.55,537.4 759.97,527.1 761.63,527.1 762.05,537.4 762.47,584.9 763.11,655.6" fill="#2f70aa"/>
<polygon points="767.10,655.6 767.74,586.0 768.15,539.1 768.58,529.0 770.22,529.0 770.65,539.1 771.06,586.0 771.70,655.6" fill="#2e6faa"/>
<polygon points="775.31,655.6 775.94,585.5 776.35,538.3 776.78,528.1 778.42,528.1 778.85,538.3 779.26,585.5 779.89,655.6" fill="#2d6ea9"/>
<polygon points="783.82,655.6 784.45,583.3 784.85,534.6 785.28,524.1 786.92,524.1 787.35,534.6 787.75,583.3 788.38,655.6" fill="#2c6da8"/>
<polygon points="792.33,655.6 792.96,582.1 793.35,532.7 793.78,522.0 795.42,522.0 795.85,532.7 796.24,582.1 796.87,655.6" fill="#2b6ca8"/>
<polygon points="800.94,655.6 801.57,579.9 801.95,529.0 802.38,518.0 804.02,518.0 804.45,529.0 804.83,579.9 805.46,655.6" fill="#296ba7"/>
<polygon points="809.15,655.6 809.77,580.4 810.15,529.8 810.59,518.9 812.21,518.9 812.65,529.8 813.03,580.4 813.65,655.6" fill="#286aa6"/>
<polygon points="817.66,655.6 818.28,582.6 818.65,533.5 819.09,522.9 820.71,522.9 821.15,533.5 821.52,582.6 822.14,655.6" fill="#2769a5"/>
<polygon points="825.87,655.6 826.48,587.1 826.85,541.1 827.29,531.1 828.91,531.1 829.35,541.1 829.72,587.1 830.33,655.6" fill="#2668a4"/>
<polygon points="833.88,655.6 834.49,588.8 834.85,543.9 835.29,534.2 836.91,534.2 837.35,543.9 837.71,588.8 838.32,655.6" fill="#2567a3"/>
<polygon points="841.78,655.6 842.39,591.3 842.75,548.1 843.20,538.7 844.80,538.7 845.25,548.1 845.61,591.3 846.22,655.6" fill="#2466a2"/>
<polygon points="849.39,655.6 850.00,591.8 850.35,548.9 850.80,539.6 852.40,539.6 852.85,548.9 853.20,591.8 853.81,655.6" fill="#2364a1"/>
<polygon points="856.70,655.6 857.30,591.3 857.65,548.1 858.10,538.7 859.70,538.7 860.15,548.1 860.50,591.3 861.10,655.6" fill="#2263a0"/>
<polygon points="864.30,655.6 864.91,591.0 865.25,547.5 865.70,538.1 867.30,538.1 867.75,547.5 868.09,591.0 868.70,655.6" fill="#21629f"/>
<polygon points="871.91,655.6 872.51,589.7 872.85,545.3 873.30,535.7 874.90,535.7 875.35,545.3 875.69,589.7 876.29,655.6" fill="#20619e"/>
<polygon points="879.52,655.6 880.12,588.3 880.45,543.0 880.91,533.2 882.49,533.2 882.95,543.0 883.28,588.3 883.88,655.6" fill="#1f609d"/>
<polygon points="887.13,655.6 887.72,588.8 888.05,543.9 888.51,534.2 890.09,534.2 890.55,543.9 890.88,588.8 891.47,655.6" fill="#1e5f9c"/>
<polygon points="894.83,655.6 895.43,587.6 895.75,541.9 896.21,532.0 897.79,532.0 898.25,541.9 898.57,587.6 899.17,655.6" fill="#1d5e9a"/>
<polygon points="902.44,655.6 903.03,588.8 903.35,543.9 903.81,534.2 905.39,534.2 905.85,543.9 906.17,588.8 906.76,655.6" fill="#1c5d99"/>
<polygon points="910.05,655.6 910.64,587.1 910.95,541.1 911.41,531.1 912.99,531.1 913.45,541.1 913.76,587.1 914.35,655.6" fill="#1b5c98"/>
<polygon points="917.65,655.6 918.24,587.6 918.55,541.9 919.02,532.0 920.58,532.0 921.05,541.9 921.36,587.6 921.95,655.6" fill="#1a5a97"/>
<polygon points="925.26,655.6 925.85,587.6 926.15,541.9 926.62,532.0 928.18,532.0 928.65,541.9 928.95,587.6 929.54,655.6" fill="#195996"/>
<polygon points="932.87,655.6 933.45,585.5 933.75,538.3 934.22,528.1 935.78,528.1 936.25,538.3 936.55,585.5 937.13,655.6" fill="#185895"/>
<polygon points="940.47,655.6 941.05,586.6 941.35,540.2 941.82,530.2 943.38,530.2 943.85,540.2 944.15,586.6 944.73,655.6" fill="#175794"/>
<polygon points="947.78,655.6 948.35,587.6 948.65,541.9 949.12,532.0 950.68,532.0 951.15,541.9 951.45,587.6 952.02,655.6" fill="#165693"/>
<polygon points="955.49,655.6 956.05,588.8 956.35,543.9 956.83,534.2 958.37,534.2 958.85,543.9 959.15,588.8 959.71,655.6" fill="#155592"/>
<polygon points="962.79,655.6 963.35,589.7 963.65,545.3 964.13,535.7 965.67,535.7 966.15,545.3 966.45,589.7 967.01,655.6" fill="#145491"/>
<polygon points="970.10,655.6 970.65,593.3 970.95,551.5 971.43,542.4 972.97,542.4 973.45,551.5 973.75,593.3 974.30,655.6" fill="#135390"/>
<polygon points="977.11,655.6 977.65,593.0 977.95,550.9 978.43,541.8 979.97,541.8 980.45,550.9 980.75,593.0 981.29,655.6" fill="#13528f"/>
<polygon points="984.11,655.6 984.65,595.5 984.95,555.0 985.43,546.3 986.97,546.3 987.45,555.0 987.75,595.5 988.29,655.6" fill="#12518e"/>
<polygon points="991.12,655.6 991.65,594.7 991.95,553.7 992.44,544.8 993.96,544.8 994.45,553.7 994.75,594.7 995.28,655.6" fill="#11508d"/>
<polygon points="998.12,655.6 998.65,593.0 998.95,550.9 999.44,541.8 1000.96,541.8 1001.45,550.9 1001.75,593.0 1002.28,655.6" fill="#104f8c"/>
<polygon points="1005.13,655.6 1005.65,592.5 1005.95,550.1 1006.44,540.9 1007.96,540.9 1008.45,550.1 1008.75,592.5 1009.27,655.6" fill="#0f4e8b"/>
<polygon points="1012.14,655.6 1012.65,594.3 1012.95,553.1 1013.44,544.2 1014.96,544.2 1015.45,553.1 1015.75,594.3 1016.26,655.6" fill="#0e4d8a"/>
<polygon points="1019.14,655.6 1019.65,589.3 1019.95,544.7 1020.44,535.1 1021.96,535.1 1022.45,544.7 1022.75,589.3 1023.26,655.6" fill="#0d4b89"/>
<polygon points="1026.15,655.6 1026.65,591.3 1026.95,548.1 1027.45,538.7 1028.95,538.7 1029.45,548.1 1029.75,591.3 1030.25,655.6" fill="#0c4a88"/>
<polygon points="1032.86,655.6 1033.35,598.0 1033.65,559.3 1034.15,550.9 1035.65,550.9 1036.15,559.3 1036.45,598.0 1036.94,655.6" fill="#0b4987"/>
<polygon points="1039.86,655.6 1040.35,578.8 1040.65,527.1 1041.15,515.9 1042.65,515.9 1043.15,527.1 1043.45,578.8 1043.94,655.6" fill="#0a4886"/>
<path d="M108.8,497.6 V656.4 H1049" fill="none" stroke="#231f20" stroke-width="1.8"/>
<text transform="translate(92.92,670.57) rotate(-90) scale(0.984,1)" font-family="'Liberation Sans',sans-serif" font-weight="normal" font-style="normal" font-size="38.93" fill="#231f20">firing (a.u.)</text>
<circle cx="147.8" cy="734.6" r="7.8" fill="none" stroke="#454346" stroke-width="2.5"/>
<circle cx="167.0" cy="756.0" r="7.8" fill="none" stroke="#454346" stroke-width="2.5"/>
<circle cx="186.2" cy="772.2" r="7.8" fill="none" stroke="#454346" stroke-width="2.5"/>
<circle cx="200.5" cy="779.2" r="7.8" fill="none" stroke="#454346" stroke-width="2.5"/>
<circle cx="215.7" cy="784.8" r="7.8" fill="none" stroke="#454346" stroke-width="2.5"/>
<circle cx="230.9" cy="789.5" r="7.8" fill="none" stroke="#454346" stroke-width="2.5"/>
<circle cx="244.6" cy="794.6" r="7.8" fill="none" stroke="#454346" stroke-width="2.5"/>
<circle cx="258.3" cy="797.0" r="7.8" fill="none" stroke="#454346" stroke-width="2.5"/>
<circle cx="272.0" cy="801.1" r="7.8" fill="none" stroke="#454346" stroke-width="2.5"/>
<circle cx="284.5" cy="804.8" r="7.8" fill="none" stroke="#454346" stroke-width="2.5"/>
<circle cx="299.5" cy="807.2" r="7.8" fill="none" stroke="#454346" stroke-width="2.5"/>
<circle cx="311.0" cy="810.9" r="7.8" fill="none" stroke="#454346" stroke-width="2.5"/>
<circle cx="323.8" cy="813.9" r="7.8" fill="none" stroke="#454346" stroke-width="2.5"/>
<circle cx="336.0" cy="816.4" r="7.8" fill="none" stroke="#454346" stroke-width="2.5"/>
<circle cx="347.3" cy="819.6" r="7.8" fill="none" stroke="#454346" stroke-width="2.5"/>
<circle cx="358.8" cy="819.8" r="7.8" fill="none" stroke="#454346" stroke-width="2.5"/>
<circle cx="369.5" cy="823.0" r="7.8" fill="none" stroke="#454346" stroke-width="2.5"/>
<circle cx="381.7" cy="826.5" r="7.8" fill="none" stroke="#454346" stroke-width="2.5"/>
<circle cx="392.9" cy="826.0" r="7.8" fill="none" stroke="#454346" stroke-width="2.5"/>
<circle cx="403.6" cy="829.6" r="7.8" fill="none" stroke="#454346" stroke-width="2.5"/>
<circle cx="415.2" cy="830.7" r="7.8" fill="none" stroke="#454346" stroke-width="2.5"/>
<circle cx="432.0" cy="832.0" r="7.8" fill="none" stroke="#454346" stroke-width="2.5"/>
<circle cx="443.5" cy="833.2" r="7.8" fill="none" stroke="#454346" stroke-width="2.5"/>
<circle cx="454.8" cy="836.5" r="7.8" fill="none" stroke="#454346" stroke-width="2.5"/>
<circle cx="465.8" cy="836.8" r="7.8" fill="none" stroke="#454346" stroke-width="2.5"/>
<circle cx="476.4" cy="837.0" r="7.8" fill="none" stroke="#454346" stroke-width="2.5"/>
<circle cx="487.4" cy="839.7" r="7.8" fill="none" stroke="#454346" stroke-width="2.5"/>
<circle cx="497.7" cy="839.7" r="7.8" fill="none" stroke="#454346" stroke-width="2.5"/>
<circle cx="508.4" cy="840.9" r="7.8" fill="none" stroke="#454346" stroke-width="2.5"/>
<circle cx="518.8" cy="841.3" r="7.8" fill="none" stroke="#454346" stroke-width="2.5"/>
<circle cx="529.1" cy="844.7" r="7.8" fill="none" stroke="#454346" stroke-width="2.5"/>
<circle cx="539.5" cy="846.4" r="7.8" fill="none" stroke="#454346" stroke-width="2.5"/>
<circle cx="549.8" cy="846.8" r="7.8" fill="none" stroke="#454346" stroke-width="2.5"/>
<circle cx="560.2" cy="848.6" r="7.8" fill="none" stroke="#454346" stroke-width="2.5"/>
<circle cx="570.2" cy="846.7" r="7.8" fill="none" stroke="#454346" stroke-width="2.5"/>
<circle cx="580.6" cy="848.0" r="7.8" fill="none" stroke="#454346" stroke-width="2.5"/>
<circle cx="590.6" cy="849.4" r="7.8" fill="none" stroke="#454346" stroke-width="2.5"/>
<circle cx="600.0" cy="851.5" r="7.8" fill="none" stroke="#454346" stroke-width="2.5"/>
<circle cx="609.2" cy="852.2" r="7.8" fill="none" stroke="#454346" stroke-width="2.5"/>
<circle cx="618.3" cy="851.2" r="7.8" fill="none" stroke="#454346" stroke-width="2.5"/>
<circle cx="627.5" cy="851.4" r="7.8" fill="none" stroke="#454346" stroke-width="2.5"/>
<circle cx="636.6" cy="852.6" r="7.8" fill="none" stroke="#454346" stroke-width="2.5"/>
<circle cx="645.7" cy="853.6" r="7.8" fill="none" stroke="#454346" stroke-width="2.5"/>
<circle cx="654.9" cy="855.7" r="7.8" fill="none" stroke="#454346" stroke-width="2.5"/>
<circle cx="664.3" cy="854.4" r="7.8" fill="none" stroke="#454346" stroke-width="2.5"/>
<circle cx="673.4" cy="857.0" r="7.8" fill="none" stroke="#454346" stroke-width="2.5"/>
<circle cx="682.3" cy="857.6" r="7.8" fill="none" stroke="#454346" stroke-width="2.5"/>
<circle cx="691.4" cy="858.7" r="7.8" fill="none" stroke="#454346" stroke-width="2.5"/>
<circle cx="700.2" cy="859.3" r="7.8" fill="none" stroke="#454346" stroke-width="2.5"/>
<circle cx="708.8" cy="859.4" r="7.8" fill="none" stroke="#454346" stroke-width="2.5"/>
<circle cx="717.6" cy="858.9" r="7.8" fill="none" stroke="#454346" stroke-width="2.5"/>
<circle cx="726.3" cy="859.3" r="7.8" fill="none" stroke="#454346" stroke-width="2.5"/>
<circle cx="735.0" cy="859.7" r="7.8" fill="none" stroke="#454346" stroke-width="2.5"/>
<circle cx="743.8" cy="861.4" r="7.8" fill="none" stroke="#454346" stroke-width="2.5"/>
<circle cx="752.3" cy="859.7" r="7.8" fill="none" stroke="#454346" stroke-width="2.5"/>
<circle cx="760.8" cy="860.4" r="7.8" fill="none" stroke="#454346" stroke-width="2.5"/>
<circle cx="769.4" cy="862.4" r="7.8" fill="none" stroke="#454346" stroke-width="2.5"/>
<circle cx="777.6" cy="861.3" r="7.8" fill="none" stroke="#454346" stroke-width="2.5"/>
<circle cx="786.1" cy="861.2" r="7.8" fill="none" stroke="#454346" stroke-width="2.5"/>
<circle cx="794.6" cy="861.5" r="7.8" fill="none" stroke="#454346" stroke-width="2.5"/>
<circle cx="803.2" cy="863.4" r="7.8" fill="none" stroke="#454346" stroke-width="2.5"/>
<circle cx="811.4" cy="863.1" r="7.8" fill="none" stroke="#454346" stroke-width="2.5"/>
<circle cx="819.9" cy="865.4" r="7.8" fill="none" stroke="#454346" stroke-width="2.5"/>
<circle cx="828.1" cy="865.5" r="7.8" fill="none" stroke="#454346" stroke-width="2.5"/>
<circle cx="836.1" cy="866.2" r="7.8" fill="none" stroke="#454346" stroke-width="2.5"/>
<circle cx="844.0" cy="864.4" r="7.8" fill="none" stroke="#454346" stroke-width="2.5"/>
<circle cx="851.6" cy="864.3" r="7.8" fill="none" stroke="#454346" stroke-width="2.5"/>
<circle cx="858.9" cy="864.6" r="7.8" fill="none" stroke="#454346" stroke-width="2.5"/>
<circle cx="866.5" cy="866.1" r="7.8" fill="none" stroke="#454346" stroke-width="2.5"/>
<circle cx="874.1" cy="867.1" r="7.8" fill="none" stroke="#454346" stroke-width="2.5"/>
<circle cx="881.7" cy="862.2" r="7.8" fill="none" stroke="#454346" stroke-width="2.5"/>
<circle cx="889.3" cy="861.6" r="7.8" fill="none" stroke="#454346" stroke-width="2.5"/>
<circle cx="897.0" cy="862.7" r="7.8" fill="none" stroke="#454346" stroke-width="2.5"/>
<circle cx="904.6" cy="863.9" r="7.8" fill="none" stroke="#454346" stroke-width="2.5"/>
<circle cx="912.2" cy="864.5" r="7.8" fill="none" stroke="#454346" stroke-width="2.5"/>
<circle cx="919.8" cy="865.2" r="7.8" fill="none" stroke="#454346" stroke-width="2.5"/>
<circle cx="927.4" cy="865.9" r="7.8" fill="none" stroke="#454346" stroke-width="2.5"/>
<circle cx="935.0" cy="865.5" r="7.8" fill="none" stroke="#454346" stroke-width="2.5"/>
<circle cx="942.6" cy="863.6" r="7.8" fill="none" stroke="#454346" stroke-width="2.5"/>
<circle cx="949.9" cy="866.9" r="7.8" fill="none" stroke="#454346" stroke-width="2.5"/>
<circle cx="957.6" cy="865.0" r="7.8" fill="none" stroke="#454346" stroke-width="2.5"/>
<circle cx="964.9" cy="866.5" r="7.8" fill="none" stroke="#454346" stroke-width="2.5"/>
<circle cx="972.2" cy="866.0" r="7.8" fill="none" stroke="#454346" stroke-width="2.5"/>
<circle cx="979.2" cy="867.9" r="7.8" fill="none" stroke="#454346" stroke-width="2.5"/>
<circle cx="986.2" cy="865.9" r="7.8" fill="none" stroke="#454346" stroke-width="2.5"/>
<circle cx="993.2" cy="866.4" r="7.8" fill="none" stroke="#454346" stroke-width="2.5"/>
<circle cx="1000.2" cy="866.7" r="7.8" fill="none" stroke="#454346" stroke-width="2.5"/>
<circle cx="1007.2" cy="866.7" r="7.8" fill="none" stroke="#454346" stroke-width="2.5"/>
<circle cx="1014.2" cy="870.1" r="7.8" fill="none" stroke="#454346" stroke-width="2.5"/>
<circle cx="1021.2" cy="869.1" r="7.8" fill="none" stroke="#454346" stroke-width="2.5"/>
<circle cx="1028.2" cy="868.4" r="7.8" fill="none" stroke="#454346" stroke-width="2.5"/>
<polygon clip-path="url(#bc)" fill="url(#bandg)" fill-opacity="1" points="120.0,701.9 123.1,704.6 126.1,707.2 129.2,709.9 132.3,712.6 135.3,715.2 138.4,717.9 141.5,720.5 144.5,723.0 147.6,725.4 150.6,727.7 153.7,730.0 156.8,732.3 159.8,734.4 162.9,736.7 166.0,738.8 169.0,740.9 172.1,743.0 175.2,745.0 178.2,747.1 181.3,749.1 184.4,751.1 187.4,753.0 190.5,754.8 193.5,756.5 196.6,758.1 199.7,759.6 202.7,761.0 205.8,762.4 208.9,763.8 211.9,765.1 215.0,766.5 218.1,767.8 221.1,769.1 224.2,770.3 227.3,771.5 230.3,772.6 233.4,773.7 236.4,774.7 239.5,775.8 242.6,776.9 245.6,778.0 248.7,779.0 251.8,780.0 254.8,781.0 257.9,781.9 261.0,782.8 264.0,783.7 267.1,784.6 270.2,785.5 273.2,786.4 276.3,787.3 279.3,788.1 282.4,789.0 285.5,789.9 288.5,790.8 291.6,791.7 294.7,792.6 297.7,793.5 300.8,794.4 303.9,795.2 306.9,796.1 310.0,797.0 313.1,797.9 316.1,798.8 319.2,799.7 322.2,800.6 325.3,801.5 328.4,802.3 331.4,803.2 334.5,804.1 337.6,805.0 340.6,805.8 343.7,806.5 346.8,807.2 349.8,807.8 352.9,808.3 356.0,808.8 359.0,809.3 362.1,809.8 365.1,810.3 368.2,810.9 371.3,811.4 374.3,811.9 377.4,812.4 380.5,812.9 383.5,813.4 386.6,813.9 389.7,814.4 392.7,814.9 395.8,815.4 398.9,815.9 401.9,816.3 405.0,816.7 408.0,817.1 411.1,817.5 414.2,817.9 417.2,818.2 420.3,818.6 423.4,819.0 426.4,819.3 429.5,819.7 432.6,820.1 435.6,820.4 438.7,820.8 441.8,821.2 444.8,821.6 447.9,821.9 450.9,822.3 454.0,822.7 457.1,823.0 460.1,823.4 463.2,823.8 466.3,824.1 469.3,824.5 472.4,824.9 475.5,825.3 478.5,825.6 481.6,826.0 484.7,826.4 487.7,826.7 490.8,827.1 493.8,827.5 496.9,827.8 500.0,828.2 503.0,828.6 506.1,828.9 509.2,829.3 512.2,829.7 515.3,830.1 518.4,830.4 521.4,830.8 524.5,831.2 527.6,831.5 530.6,831.9 533.7,832.3 536.7,832.6 539.8,833.0 542.9,833.4 545.9,833.7 549.0,834.1 552.1,834.4 555.1,834.7 558.2,834.9 561.3,835.2 564.3,835.4 567.4,835.6 570.5,835.9 573.5,836.1 576.6,836.3 579.6,836.5 582.7,836.8 585.8,837.0 588.8,837.2 591.9,837.4 595.0,837.7 598.0,837.9 601.1,838.1 604.2,838.3 607.2,838.6 610.3,838.8 613.4,839.0 616.4,839.2 619.5,839.5 622.6,839.7 625.6,839.9 628.7,840.1 631.7,840.4 634.8,840.6 637.9,840.8 640.9,841.1 644.0,841.3 647.1,841.6 650.1,841.9 653.2,842.2 656.3,842.5 659.3,842.8 662.4,843.0 665.5,843.3 668.5,843.6 671.6,843.9 674.6,844.2 677.7,844.5 680.8,844.7 683.8,845.0 686.9,845.3 690.0,845.6 693.0,845.9 696.1,846.2 699.2,846.4 702.2,846.7 705.3,846.9 708.4,847.1 711.4,847.2 714.5,847.3 717.5,847.5 720.6,847.6 723.7,847.7 726.7,847.8 729.8,848.0 732.9,848.1 735.9,848.2 739.0,848.4 742.1,848.5 745.1,848.7 748.2,848.8 751.3,849.0 754.3,849.1 757.4,849.2 760.4,849.4 763.5,849.5 766.6,849.7 769.6,849.8 772.7,850.0 775.8,850.1 778.8,850.3 781.9,850.4 785.0,850.5 788.0,850.7 791.1,850.8 794.2,851.0 797.2,851.1 800.3,851.3 803.3,851.4 806.4,851.6 809.5,851.7 812.5,851.8 815.6,852.0 818.7,852.1 821.7,852.3 824.8,852.4 827.9,852.6 830.9,852.7 834.0,852.9 837.1,853.0 840.1,853.1 843.2,853.3 846.2,853.4 849.3,853.6 852.4,853.7 855.4,853.9 858.5,854.0 861.6,854.2 864.6,854.3 867.7,854.4 870.8,854.6 873.8,854.7 876.9,854.9 880.0,855.0 883.0,855.2 886.1,855.3 889.1,855.5 892.2,855.6 895.3,855.8 898.3,855.9 901.4,856.0 904.5,856.2 907.5,856.3 910.6,856.5 913.7,856.6 916.7,856.8 919.8,856.9 922.9,857.1 925.9,857.2 929.0,857.3 932.0,857.5 935.1,857.6 938.2,857.8 941.2,857.9 944.3,858.1 947.4,858.2 950.4,858.4 953.5,858.5 956.6,858.6 959.6,858.8 962.7,858.9 965.8,859.1 968.8,859.2 971.9,859.4 974.9,859.5 978.0,859.7 981.1,859.8 984.1,859.9 987.2,860.1 990.3,860.2 993.3,860.4 996.4,860.5 999.5,860.7 1002.5,860.8 1005.6,861.0 1008.7,861.1 1011.7,861.2 1014.8,861.4 1017.8,861.5 1020.9,861.7 1024.0,861.8 1027.0,862.0 1030.1,862.1 1033.2,862.3 1036.2,862.4 1039.3,862.5 1039.3,880.0 1036.2,879.9 1033.2,879.8 1030.1,879.6 1027.0,879.5 1024.0,879.4 1020.9,879.2 1017.8,879.1 1014.8,879.0 1011.7,878.8 1008.7,878.7 1005.6,878.6 1002.5,878.4 999.5,878.3 996.4,878.2 993.3,878.0 990.3,877.9 987.2,877.7 984.1,877.6 981.1,877.5 978.0,877.3 974.9,877.2 971.9,877.1 968.8,876.9 965.8,876.8 962.7,876.7 959.6,876.5 956.6,876.4 953.5,876.3 950.4,876.1 947.4,876.0 944.3,875.8 941.2,875.7 938.2,875.6 935.1,875.4 932.0,875.3 929.0,875.2 925.9,875.0 922.9,874.9 919.8,874.8 916.7,874.6 913.7,874.5 910.6,874.4 907.5,874.2 904.5,874.1 901.4,873.9 898.3,873.8 895.3,873.7 892.2,873.5 889.1,873.4 886.1,873.3 883.0,873.1 880.0,873.0 876.9,872.9 873.8,872.7 870.8,872.6 867.7,872.5 864.6,872.3 861.6,872.2 858.5,872.0 855.4,871.9 852.4,871.8 849.3,871.6 846.2,871.5 843.2,871.4 840.1,871.2 837.1,871.1 834.0,871.0 830.9,870.8 827.9,870.7 824.8,870.6 821.7,870.4 818.7,870.3 815.6,870.2 812.5,870.0 809.5,869.9 806.4,869.7 803.3,869.6 800.3,869.5 797.2,869.3 794.2,869.2 791.1,869.1 788.0,868.9 785.0,868.8 781.9,868.7 778.8,868.5 775.8,868.4 772.7,868.3 769.6,868.1 766.6,868.0 763.5,867.8 760.4,867.7 757.4,867.6 754.3,867.4 751.3,867.3 748.2,867.2 745.1,867.0 742.1,866.9 739.0,866.8 735.9,866.6 732.9,866.5 729.8,866.4 726.7,866.3 723.7,866.1 720.6,866.0 717.5,865.9 714.5,865.8 711.4,865.7 708.4,865.5 705.3,865.4 702.2,865.2 699.2,864.9 696.1,864.7 693.0,864.4 690.0,864.1 686.9,863.9 683.8,863.6 680.8,863.3 677.7,863.0 674.6,862.8 671.6,862.5 668.5,862.2 665.5,861.9 662.4,861.7 659.3,861.4 656.3,861.1 653.2,860.8 650.1,860.6 647.1,860.3 644.0,860.0 640.9,859.8 637.9,859.5 634.8,859.3 631.7,859.1 628.7,858.8 625.6,858.6 622.6,858.4 619.5,858.2 616.4,858.0 613.4,857.8 610.3,857.6 607.2,857.3 604.2,857.1 601.1,856.9 598.0,856.7 595.0,856.5 591.9,856.3 588.8,856.0 585.8,855.8 582.7,855.6 579.6,855.4 576.6,855.2 573.5,855.0 570.5,854.8 567.4,854.5 564.3,854.3 561.3,854.1 558.2,853.9 555.1,853.6 552.1,853.4 549.0,853.1 545.9,852.7 542.9,852.4 539.8,852.0 536.7,851.7 533.7,851.3 530.6,850.9 527.6,850.6 524.5,850.2 521.4,849.9 518.4,849.5 515.3,849.2 512.2,848.8 509.2,848.4 506.1,848.1 503.0,847.7 500.0,847.4 496.9,847.0 493.8,846.6 490.8,846.3 487.7,845.9 484.7,845.6 481.6,845.2 478.5,844.8 475.5,844.5 472.4,844.1 469.3,843.8 466.3,843.4 463.2,843.1 460.1,842.7 457.1,842.3 454.0,842.0 450.9,841.6 447.9,841.3 444.8,840.9 441.8,840.5 438.7,840.2 435.6,839.8 432.6,839.5 429.5,839.1 426.4,838.7 423.4,838.4 420.3,838.0 417.2,837.7 414.2,837.3 411.1,836.9 408.0,836.6 405.0,836.2 401.9,835.8 398.9,835.4 395.8,835.0 392.7,834.5 389.7,834.0 386.6,833.6 383.5,833.1 380.5,832.6 377.4,832.1 374.3,831.6 371.3,831.2 368.2,830.7 365.1,830.2 362.1,829.7 359.0,829.3 356.0,828.8 352.9,828.3 349.8,827.8 346.8,827.2 343.7,826.6 340.6,825.9 337.6,825.1 334.5,824.3 331.4,823.5 328.4,822.6 325.3,821.8 322.2,820.9 319.2,820.0 316.1,819.2 313.1,818.3 310.0,817.5 306.9,816.6 303.9,815.8 300.8,814.9 297.7,814.1 294.7,813.2 291.6,812.4 288.5,811.5 285.5,810.7 282.4,809.8 279.3,808.9 276.3,808.1 273.2,807.2 270.2,806.4 267.1,805.5 264.0,804.6 261.0,803.8 257.9,802.9 254.8,802.0 251.8,801.0 248.7,800.1 245.6,799.0 242.6,798.0 239.5,796.9 236.4,795.9 233.4,794.8 230.3,793.7 227.3,792.6 224.2,791.5 221.1,790.3 218.1,789.0 215.0,787.7 211.9,786.4 208.9,785.0 205.8,783.6 202.7,782.3 199.7,780.9 196.6,779.5 193.5,778.1 190.5,776.6 187.4,774.9 184.4,773.2 181.3,771.4 178.2,769.5 175.2,767.6 172.1,765.8 169.0,763.8 166.0,761.9 162.9,759.9 159.8,757.8 156.8,755.6 153.7,753.3 150.6,750.9 147.6,748.4 144.5,745.8 141.5,743.0 138.4,740.2 135.3,737.3 132.3,734.5 129.2,731.6 126.1,728.7 123.1,725.8 120.0,722.9"/>
<path d="M108.9,701.3 V884 H1039.5" fill="none" stroke="#231f20" stroke-width="1.8"/>
<path d="M108.9,723 H117.9" stroke="#231f20" stroke-width="1.6"/>
<path d="M108.9,763.3 H117.9" stroke="#231f20" stroke-width="1.6"/>
<path d="M108.9,803.5 H117.9" stroke="#231f20" stroke-width="1.6"/>
<path d="M108.9,843.8 H117.9" stroke="#231f20" stroke-width="1.6"/>
<text transform="translate(86.97,855.53) rotate(-90) scale(1.030,1)" font-family="'Liberation Sans',sans-serif" font-weight="normal" font-style="normal" font-size="37.75" fill="#231f20">period</text>
<text transform="translate(114.41,927.82) scale(1.009,1)" font-family="'Liberation Sans',sans-serif" font-weight="normal" font-style="normal" font-size="37.69" fill="#231f20">ventral</text>
<text transform="translate(948.06,926.02) scale(1.021,1)" font-family="'Liberation Sans',sans-serif" font-weight="normal" font-style="normal" font-size="37.69" fill="#231f20">dorsal</text>
<text transform="translate(538.84,931.89) scale(1.074,1)" font-family="'Liberation Serif',serif" font-weight="normal" font-style="italic" font-size="57.42" fill="#111">n</text>
<text transform="translate(570.71,940.24) scale(0.918,1)" font-family="'Liberation Serif',serif" font-weight="normal" font-style="italic" font-size="44.33" fill="#111">DV</text>
</svg>
</body></html>
